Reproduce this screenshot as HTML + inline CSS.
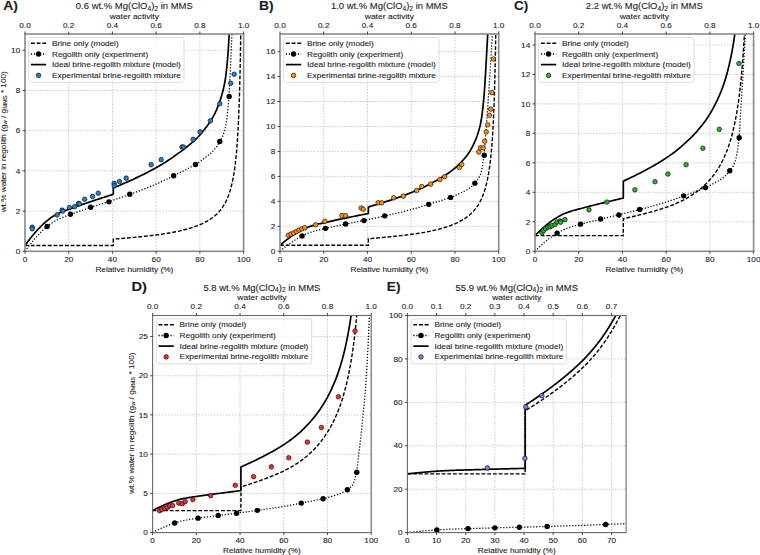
<!DOCTYPE html>
<html><head><meta charset="utf-8"><style>
html,body{margin:0;padding:0;background:#fff;}
body{width:760px;height:555px;overflow:hidden;}
svg{display:block;}
text{font-family:"Liberation Sans",sans-serif;fill:#1c1c1c;stroke:#1c1c1c;stroke-width:0.1px;}
</style></head><body>
<svg width="760" height="555" viewBox="0 0 760 555">
<clipPath id="cA"><rect x="25.0" y="34.0" width="218.6" height="217.3"/></clipPath>
<path d="M25 34V251.3M68.72 34V251.3M112.44 34V251.3M156.16 34V251.3M199.88 34V251.3M243.6 34V251.3M25 251.3H243.6M25 211.1H243.6M25 170.89H243.6M25 130.69H243.6M25 90.49H243.6M25 50.28H243.6" stroke="#c4c4c4" stroke-width="0.9" stroke-dasharray="1.6,1.45" fill="none"/>
<g clip-path="url(#cA)" fill="none" stroke="#000">
<path d="M25 245.46 L26.09 245.46 L27.19 245.46 L28.28 245.46 L29.37 245.46 L30.46 245.46 L31.56 245.46 L32.65 245.46 L33.74 245.46 L34.84 245.46 L35.93 245.46 L37.02 245.46 L38.12 245.46 L39.21 245.46 L40.3 245.46 L41.39 245.46 L42.49 245.46 L43.58 245.46 L44.67 245.46 L45.77 245.46 L46.86 245.46 L47.95 245.46 L49.05 245.46 L50.14 245.46 L51.23 245.46 L52.33 245.46 L53.42 245.46 L54.51 245.46 L55.6 245.46 L56.7 245.46 L57.79 245.46 L58.88 245.46 L59.98 245.46 L61.07 245.46 L62.16 245.46 L63.26 245.46 L64.35 245.46 L65.44 245.46 L66.53 245.46 L67.63 245.46 L68.72 245.46 L69.81 245.46 L70.91 245.46 L72 245.46 L73.09 245.46 L74.19 245.46 L75.28 245.46 L76.37 245.46 L77.46 245.46 L78.56 245.46 L79.65 245.46 L80.74 245.46 L81.84 245.46 L82.93 245.46 L84.02 245.46 L85.12 245.46 L86.21 245.46 L87.3 245.46 L88.39 245.46 L89.49 245.46 L90.58 245.46 L91.67 245.46 L92.77 245.46 L93.86 245.46 L94.95 245.46 L96.05 245.46 L97.14 245.46 L98.23 245.46 L99.32 245.46 L100.42 245.46 L101.51 245.46 L102.6 245.46 L103.7 245.46 L104.79 245.46 L105.88 245.46 L106.97 245.46 L108.07 245.46 L109.16 245.46 L110.25 245.46 L111.35 245.46 L112.44 245.46 L113.31 245.46 L113.31 245.46 L113.31 239.19 L114.41 239.1 L115.5 239.01 L116.59 238.92 L117.69 238.83 L118.78 238.74 L119.87 238.64 L120.97 238.55 L122.06 238.46 L123.15 238.36 L124.24 238.27 L125.34 238.17 L126.43 238.07 L127.52 237.97 L128.62 237.87 L129.71 237.77 L130.8 237.67 L131.9 237.57 L132.99 237.46 L134.08 237.36 L135.17 237.25 L136.27 237.15 L137.36 237.04 L138.45 236.93 L139.55 236.82 L140.64 236.71 L141.73 236.59 L142.83 236.48 L143.92 236.36 L145.01 236.25 L146.1 236.13 L147.2 236.01 L148.29 235.89 L149.38 235.76 L150.48 235.64 L151.57 235.51 L152.66 235.38 L153.76 235.25 L154.85 235.11 L155.94 234.97 L157.03 234.83 L158.13 234.69 L159.22 234.54 L160.31 234.39 L161.41 234.23 L162.5 234.08 L163.59 233.91 L164.69 233.75 L165.78 233.58 L166.87 233.4 L167.96 233.22 L169.06 233.03 L170.15 232.84 L171.24 232.65 L172.34 232.45 L173.43 232.24 L174.52 232.02 L175.62 231.8 L176.71 231.58 L177.8 231.34 L178.89 231.1 L179.99 230.85 L181.08 230.6 L182.17 230.34 L183.27 230.07 L184.36 229.79 L185.45 229.5 L186.55 229.2 L187.64 228.9 L188.73 228.58 L189.82 228.25 L190.92 227.92 L192.01 227.57 L193.1 227.21 L194.2 226.84 L195.29 226.45 L196.38 226.05 L197.48 225.64 L198.57 225.21 L199.66 224.76 L200.75 224.29 L201.85 223.81 L202.94 223.3 L204.03 222.77 L205.13 222.22 L206.22 221.64 L207.31 221.03 L208.41 220.39 L209.5 219.72 L210.59 219 L211.68 218.25 L212.78 217.45 L213.87 216.61 L214.96 215.7 L216.06 214.74 L216.6 214.23 L217.15 213.71 L217.7 213.16 L218.24 212.6 L218.79 212.01 L219.34 211.4 L219.88 210.76 L220.43 210.1 L220.97 209.41 L221.52 208.69 L222.07 207.94 L222.61 207.15 L223.16 206.32 L223.71 205.46 L224.25 204.55 L224.8 203.59 L225.35 202.58 L225.89 201.52 L226.44 200.39 L226.99 199.2 L227.53 197.93 L228.08 196.58 L228.35 195.87 L228.63 195.14 L228.9 194.38 L229.17 193.6 L229.45 192.79 L229.72 191.95 L229.99 191.07 L230.27 190.17 L230.54 189.23 L230.81 188.25 L231.09 187.23 L231.36 186.17 L231.63 185.06 L231.9 183.91 L232.18 182.7 L232.45 181.44 L232.72 180.12 L233 178.73 L233.27 177.28 L233.41 176.52 L233.54 175.75 L233.68 174.95 L233.82 174.13 L233.95 173.29 L234.09 172.43 L234.23 171.55 L234.36 170.63 L234.5 169.7 L234.64 168.73 L234.77 167.74 L234.91 166.72 L235.05 165.66 L235.18 164.57 L235.32 163.45 L235.46 162.29 L235.59 161.1 L235.73 159.86 L235.87 158.58 L236 157.26 L236.14 155.88 L236.28 154.46 L236.41 152.99 L236.48 152.23 L236.55 151.46 L236.62 150.68 L236.69 149.87 L236.76 149.06 L236.82 148.22 L236.89 147.37 L236.96 146.51 L237.03 145.62 L237.1 144.72 L237.16 143.8 L237.23 142.86 L237.3 141.9 L237.37 140.91 L237.44 139.91 L237.51 138.89 L237.57 137.84 L237.64 136.77 L237.71 135.67 L237.78 134.55 L237.85 133.4 L237.92 132.22 L237.98 131.02 L238.05 129.79 L238.12 128.53 L238.19 127.23 L238.26 125.9 L238.33 124.54 L238.39 123.14 L238.46 121.71 L238.53 120.24 L238.57 119.49 L238.6 118.73 L238.63 117.95 L238.67 117.17 L238.7 116.38 L238.74 115.58 L238.77 114.76 L238.8 113.93 L238.84 113.09 L238.87 112.24 L238.91 111.38 L238.94 110.5 L238.98 109.62 L239.01 108.71 L239.04 107.8 L239.08 106.87 L239.11 105.92 L239.15 104.97 L239.18 103.99 L239.21 103.01 L239.25 102 L239.28 100.98 L239.32 99.95 L239.35 98.9 L239.39 97.83 L239.42 96.74 L239.45 95.64 L239.49 94.51 L239.52 93.37 L239.56 92.21 L239.59 91.03 L239.62 89.83 L239.66 88.6 L239.69 87.36 L239.73 86.1 L239.76 84.81 L239.79 83.49 L239.83 82.16 L239.86 80.8 L239.9 79.41 L239.93 78 L239.97 76.56 L240 75.1 L240.03 73.61 L240.05 72.85 L240.07 72.08 L240.09 71.31 L240.1 70.53 L240.12 69.74 L240.14 68.95 L240.15 68.14 L240.17 67.33 L240.19 66.51 L240.2 65.68 L240.22 64.84 L240.24 64 L240.26 63.15 L240.27 62.28 L240.29 61.41 L240.31 60.53 L240.32 59.64 L240.34 58.74 L240.36 57.83 L240.38 56.91 L240.39 55.98 L240.41 55.04 L240.43 54.09 L240.44 53.13 L240.46 52.16 L240.48 51.18 L240.5 50.19 L240.51 49.19 L240.53 48.17 L240.55 47.15 L240.56 46.11 L240.58 45.06 L240.6 44 L240.61 42.93 L240.63 41.84 L240.65 40.74 L240.67 39.63 L240.68 38.5 L240.7 37.37 L240.72 36.21 L240.73 35.05 L240.75 33.87 L240.77 32.67 L240.79 31.46 L240.8 30.24 L240.82 29 L240.84 27.74 L240.85 26.47 L240.87 25.19 L240.89 23.88 L240.91 22.56 L240.92 21.23 L240.94 19.87 L240.96 18.5 L240.97 17.11 L240.99 15.7 L241.01 14.27 L241.02 12.82 L241.04 11.36 L241.06 9.87 L241.07 9.12 L241.08 8.36 L241.08 7.6 L241.09 6.83 L241.1 6.06 L241.11 5.28 L241.12 4.5 L241.13 3.71 L241.14 2.92 L241.14 2.12 L241.15 1.32" stroke-width="1.4" stroke-dasharray="3.9,1.8"/>
<path d="M25 251.3 L25.55 250.53 L26.09 249.77 L26.64 249.02 L27.19 248.28 L27.73 247.57 L28.28 246.87 L28.83 246.17 L29.37 245.47 L29.92 244.76 L30.46 244.05 L31.01 243.35 L31.56 242.66 L32.1 241.99 L32.65 241.34 L33.2 240.69 L33.74 240.04 L34.29 239.38 L34.84 238.72 L35.38 238.07 L35.93 237.43 L36.48 236.81 L37.02 236.2 L37.57 235.6 L38.12 235.02 L38.66 234.45 L39.21 233.9 L39.76 233.35 L40.3 232.81 L40.85 232.25 L41.39 231.69 L41.94 231.13 L42.49 230.6 L43.03 230.07 L43.58 229.56 L44.13 229.07 L44.67 228.59 L45.22 228.12 L45.77 227.66 L46.31 227.22 L46.86 226.78 L47.41 226.33 L47.95 225.88 L48.5 225.44 L49.05 225 L49.59 224.56 L50.14 224.14 L50.69 223.74 L51.23 223.36 L51.78 223 L52.33 222.65 L52.87 222.31 L53.42 221.98 L53.96 221.66 L54.51 221.35 L55.06 221.05 L55.6 220.75 L56.15 220.45 L56.7 220.16 L57.24 219.87 L57.79 219.59 L58.34 219.31 L58.88 219.05 L59.43 218.79 L59.98 218.53 L60.52 218.29 L61.4 217.91 L62.27 217.54 L63.15 217.19 L64.02 216.85 L64.89 216.52 L65.77 216.22 L66.64 215.93 L67.52 215.63 L68.39 215.33 L69.27 215.02 L70.14 214.69 L71.02 214.36 L71.89 214.03 L72.76 213.69 L73.64 213.36 L74.51 213.04 L75.39 212.72 L76.26 212.41 L77.14 212.09 L78.01 211.78 L78.88 211.48 L79.76 211.17 L80.63 210.87 L81.51 210.56 L82.38 210.26 L83.26 209.97 L84.13 209.67 L85.01 209.37 L85.88 209.08 L86.75 208.78 L87.63 208.49 L88.5 208.2 L89.38 207.91 L90.25 207.62 L91.13 207.33 L92 207.04 L92.88 206.76 L93.75 206.47 L94.62 206.18 L95.5 205.9 L96.37 205.61 L97.25 205.33 L98.12 205.04 L99 204.76 L99.87 204.47 L100.74 204.19 L101.62 203.9 L102.49 203.62 L103.37 203.33 L104.24 203.04 L105.12 202.76 L105.99 202.47 L106.87 202.19 L107.74 201.9 L108.61 201.61 L109.49 201.32 L110.36 201.04 L111.24 200.75 L112.11 200.46 L112.99 200.17 L113.86 199.88 L114.74 199.58 L115.61 199.29 L116.48 199 L117.36 198.7 L118.23 198.41 L119.11 198.11 L119.98 197.81 L120.86 197.52 L121.73 197.22 L122.6 196.91 L123.48 196.61 L124.35 196.31 L125.23 196 L126.1 195.7 L126.98 195.39 L127.85 195.08 L128.73 194.77 L129.6 194.46 L130.47 194.15 L131.35 193.83 L132.22 193.52 L133.1 193.2 L133.97 192.88 L134.85 192.56 L135.72 192.23 L136.6 191.91 L137.47 191.58 L138.34 191.25 L139.22 190.92 L140.09 190.59 L140.97 190.25 L141.84 189.91 L142.72 189.57 L143.59 189.23 L144.46 188.89 L145.34 188.54 L146.21 188.19 L147.09 187.84 L147.96 187.49 L148.84 187.13 L149.71 186.77 L150.59 186.41 L151.46 186.05 L152.33 185.68 L153.21 185.31 L154.08 184.94 L154.96 184.57 L155.83 184.19 L156.71 183.81 L157.58 183.43 L158.46 183.04 L159.33 182.65 L160.2 182.26 L161.08 181.86 L161.95 181.46 L162.83 181.06 L163.7 180.65 L164.58 180.24 L165.45 179.83 L166.32 179.41 L167.2 178.99 L168.07 178.57 L168.95 178.14 L169.82 177.71 L170.7 177.28 L171.57 176.84 L172.45 176.39 L173.32 175.94 L174.19 175.48 L175.07 175.01 L175.94 174.54 L176.82 174.08 L177.69 173.63 L178.57 173.2 L179.44 172.8 L180.32 172.41 L181.19 172.01 L182.06 171.6 L182.94 171.17 L183.81 170.72 L184.69 170.26 L185.56 169.79 L186.44 169.32 L187.31 168.84 L188.18 168.37 L189.06 167.9 L189.93 167.44 L190.81 166.99 L191.68 166.54 L192.56 166.08 L193.43 165.62 L194.31 165.15 L195.18 164.65 L196.05 164.14 L196.93 163.6 L197.8 163.04 L198.68 162.47 L199.55 161.87 L200.43 161.26 L201.3 160.61 L202.18 159.94 L203.05 159.25 L203.92 158.56 L204.8 157.88 L205.67 157.21 L206.55 156.57 L207.42 155.94 L208.3 155.29 L209.17 154.62 L210.04 153.89 L210.92 153.11 L211.79 152.28 L212.67 151.41 L213.54 150.48 L214.42 149.5 L215.29 148.46 L216.17 147.35 L216.6 146.75 L217.04 146.13 L217.48 145.47 L217.91 144.8 L218.35 144.1 L218.79 143.39 L219.23 142.66 L219.66 141.93 L220.1 141.19 L220.54 140.42 L220.97 139.62 L221.41 138.79 L221.85 137.9 L222.29 136.95 L222.72 135.93 L223.16 134.83 L223.6 133.62 L224.04 132.32 L224.47 130.95 L224.91 129.53 L225.13 128.72 L225.35 127.8 L225.57 126.75 L225.78 125.58 L226 124.31 L226.22 122.95 L226.44 121.52 L226.55 120.76 L226.66 119.98 L226.77 119.16 L226.88 118.32 L226.99 117.44 L227.1 116.54 L227.21 115.61 L227.31 114.65 L227.42 113.66 L227.53 112.64 L227.64 111.59 L227.75 110.5 L227.86 109.36 L227.97 108.16 L228.08 106.91 L228.19 105.61 L228.3 104.28 L228.41 102.9 L228.52 101.47 L228.63 100.02 L228.74 98.53 L228.79 97.76 L228.84 96.98 L228.9 96.19 L228.95 95.37 L229.01 94.54 L229.06 93.7 L229.12 92.84 L229.17 91.96 L229.23 91.07 L229.28 90.17 L229.34 89.25 L229.39 88.31 L229.45 87.37 L229.5 86.41 L229.55 85.44 L229.61 84.46 L229.66 83.45 L229.72 82.42 L229.77 81.36 L229.83 80.28 L229.88 79.17 L229.94 78.05 L229.99 76.91 L230.05 75.76 L230.1 74.6 L230.16 73.43 L230.21 72.25 L230.27 71.07 L230.32 69.89 L230.37 68.71 L230.43 67.53 L230.48 66.36 L230.54 65.19 L230.59 64.02 L230.65 62.83 L230.7 61.64 L230.76 60.45 L230.81 59.25 L230.87 58.04 L230.92 56.83 L230.98 55.62 L231.03 54.4 L231.09 53.19 L231.14 51.97 L231.19 50.75 L231.25 49.53 L231.3 48.31 L231.36 47.09 L231.41 45.88 L231.47 44.66 L231.52 43.45 L231.58 42.24 L231.63 41.04 L231.69 39.84 L231.74 38.64 L231.8 37.45 L231.85 36.26 L231.9 35.07 L231.96 33.88 L232.01 32.69 L232.07 31.49 L232.12 30.3 L232.18 29.11 L232.23 27.91 L232.29 26.71 L232.34 25.5 L232.4 24.29 L232.45 23.07 L232.51 21.84 L232.56 20.61 L232.62 19.37 L232.67 18.12 L232.72 16.86 L232.78 15.59 L232.83 14.31 L232.89 13.03 L232.94 11.73 L233 10.43 L233.05 9.13 L233.11 7.82 L233.16 6.5 L233.22 5.18 L233.27 3.86 L233.33 2.54 L233.38 1.22" stroke-width="1.3" stroke-dasharray="1.2,1.8"/>
<path d="M25 245.46 L25.55 244.69 L26.09 243.93 L26.64 243.18 L27.19 242.45 L27.73 241.73 L28.28 241.03 L28.83 240.33 L29.37 239.63 L29.92 238.92 L30.46 238.21 L31.01 237.51 L31.56 236.82 L32.1 236.15 L32.65 235.5 L33.2 234.85 L33.74 234.21 L34.29 233.55 L34.84 232.89 L35.38 232.23 L35.93 231.59 L36.48 230.97 L37.02 230.36 L37.57 229.76 L38.12 229.18 L38.66 228.61 L39.21 228.06 L39.76 227.52 L40.3 226.97 L40.85 226.41 L41.39 225.85 L41.94 225.3 L42.49 224.76 L43.03 224.24 L43.58 223.73 L44.13 223.23 L44.67 222.75 L45.22 222.28 L45.77 221.83 L46.31 221.38 L46.86 220.94 L47.41 220.49 L47.95 220.05 L48.5 219.6 L49.05 219.16 L49.59 218.73 L50.14 218.31 L50.69 217.9 L51.23 217.52 L51.78 217.16 L52.33 216.81 L52.87 216.47 L53.42 216.14 L53.96 215.83 L54.51 215.51 L55.06 215.21 L55.6 214.91 L56.15 214.61 L56.7 214.32 L57.24 214.03 L57.79 213.75 L58.34 213.48 L58.88 213.21 L59.43 212.95 L59.98 212.7 L60.52 212.45 L61.4 212.07 L62.27 211.7 L63.15 211.35 L64.02 211.01 L64.89 210.69 L65.77 210.38 L66.64 210.09 L67.52 209.8 L68.39 209.5 L69.27 209.18 L70.14 208.86 L71.02 208.52 L71.89 208.19 L72.76 207.85 L73.64 207.52 L74.51 207.2 L75.39 206.88 L76.26 206.57 L77.14 206.26 L78.01 205.95 L78.88 205.64 L79.76 205.33 L80.63 205.03 L81.51 204.73 L82.38 204.43 L83.26 204.13 L84.13 203.83 L85.01 203.54 L85.88 203.24 L86.75 202.95 L87.63 202.66 L88.5 202.36 L89.38 202.07 L90.25 201.78 L91.13 201.5 L92 201.21 L92.88 200.92 L93.75 200.63 L94.62 200.35 L95.5 200.06 L96.37 199.77 L97.25 199.49 L98.12 199.2 L99 198.92 L99.87 198.63 L100.74 198.35 L101.62 198.06 L102.49 197.78 L103.37 197.49 L104.24 197.21 L105.12 196.92 L105.99 196.64 L106.87 196.35 L107.74 196.06 L108.61 195.77 L109.49 195.49 L110.36 195.2 L111.24 194.91 L112.11 194.62 L112.99 194.33 L113.31 194.22 L113.31 194.22 L113.31 187.94 L114.41 187.49 L115.5 187.04 L116.59 186.58 L117.69 186.12 L118.78 185.66 L119.87 185.19 L120.97 184.73 L122.06 184.26 L123.15 183.79 L124.24 183.31 L125.34 182.83 L126.43 182.35 L127.52 181.87 L128.62 181.38 L129.71 180.89 L130.8 180.4 L131.9 179.9 L132.99 179.4 L134.08 178.9 L135.17 178.39 L136.27 177.87 L137.36 177.36 L138.45 176.84 L139.55 176.31 L140.64 175.78 L141.73 175.25 L142.83 174.71 L143.92 174.17 L145.01 173.62 L146.1 173.07 L147.2 172.51 L148.29 171.94 L149.38 171.37 L150.48 170.79 L151.57 170.21 L152.66 169.62 L153.76 169.03 L154.85 168.42 L155.94 167.81 L157.03 167.2 L158.13 166.57 L159.22 165.94 L160.31 165.3 L161.41 164.65 L162.5 163.99 L163.59 163.32 L164.69 162.64 L165.78 161.95 L166.87 161.25 L167.96 160.54 L169.06 159.82 L170.15 159.09 L171.24 158.35 L172.34 157.59 L173.43 156.82 L174.52 156.02 L175.62 155.22 L176.71 154.41 L177.8 153.62 L178.89 152.85 L179.99 152.11 L181.08 151.36 L182.17 150.58 L183.27 149.77 L184.36 148.92 L185.45 148.05 L186.55 147.16 L187.64 146.26 L188.73 145.36 L189.82 144.46 L190.92 143.55 L192.01 142.64 L193.1 141.71 L194.2 140.74 L195.29 139.74 L195.84 139.22 L196.38 138.69 L196.93 138.14 L197.48 137.59 L198.02 137.02 L198.57 136.45 L199.11 135.86 L199.66 135.26 L200.21 134.64 L200.75 134.01 L201.3 133.36 L201.85 132.7 L202.39 132.02 L202.94 131.34 L203.49 130.65 L204.03 129.95 L204.58 129.25 L205.13 128.54 L205.67 127.84 L206.22 127.15 L206.77 126.45 L207.31 125.75 L207.86 125.03 L208.41 124.3 L208.95 123.55 L209.5 122.77 L210.04 121.96 L210.59 121.11 L211.14 120.24 L211.68 119.34 L212.23 118.41 L212.78 117.45 L213.32 116.45 L213.87 115.42 L214.42 114.36 L214.96 113.26 L215.51 112.12 L216.06 110.93 L216.6 109.68 L217.15 108.37 L217.7 107 L217.97 106.29 L218.24 105.57 L218.52 104.84 L218.79 104.1 L219.06 103.34 L219.34 102.58 L219.61 101.8 L219.88 101.02 L220.16 100.23 L220.43 99.42 L220.7 98.59 L220.97 97.73 L221.25 96.86 L221.52 95.96 L221.79 95.03 L222.07 94.07 L222.34 93.08 L222.61 92.04 L222.89 90.97 L223.16 89.85 L223.43 88.68 L223.71 87.46 L223.98 86.19 L224.25 84.89 L224.53 83.55 L224.8 82.19 L225.07 80.73 L225.21 79.93 L225.35 79.08 L225.48 78.18 L225.62 77.22 L225.76 76.22 L225.89 75.17 L226.03 74.09 L226.17 72.96 L226.3 71.8 L226.44 70.61 L226.58 69.37 L226.71 68.07 L226.85 66.73 L226.99 65.34 L227.12 63.9 L227.26 62.41 L227.33 61.64 L227.4 60.86 L227.46 60.07 L227.53 59.27 L227.6 58.45 L227.67 57.63 L227.74 56.77 L227.81 55.9 L227.87 55 L227.94 54.09 L228.01 53.15 L228.08 52.19 L228.15 51.21 L228.22 50.21 L228.28 49.2 L228.35 48.16 L228.42 47.11 L228.49 46.04 L228.56 44.96 L228.63 43.86 L228.69 42.74 L228.76 41.61 L228.83 40.45 L228.9 39.27 L228.97 38.06 L229.04 36.82 L229.1 35.55 L229.17 34.26 L229.24 32.95 L229.31 31.61 L229.38 30.24 L229.45 28.86 L229.51 27.45 L229.58 26.02 L229.65 24.56 L229.68 23.82 L229.72 23.06 L229.75 22.3 L229.79 21.52 L229.82 20.74 L229.86 19.94 L229.89 19.14 L229.92 18.33 L229.96 17.51 L229.99 16.69 L230.03 15.86 L230.06 15.02 L230.09 14.18 L230.13 13.34 L230.16 12.49 L230.2 11.64 L230.23 10.79 L230.27 9.94 L230.3 9.09 L230.33 8.23 L230.37 7.38 L230.4 6.52 L230.44 5.67 L230.47 4.82 L230.5 3.97 L230.54 3.12 L230.57 2.27 L230.61 1.41 L230.64 0.55" stroke-width="1.7" stroke-linejoin="round"/>
</g>
<g fill="#000" clip-path="url(#cA)"><circle cx="47.08" cy="226.57" r="2.7"/><circle cx="70.47" cy="214.31" r="2.7"/><circle cx="90.58" cy="207.28" r="2.7"/><circle cx="108.94" cy="201.85" r="2.7"/><circle cx="129.71" cy="194.21" r="2.7"/><circle cx="173.65" cy="175.72" r="2.7"/><circle cx="195.51" cy="164.46" r="2.7"/><circle cx="219.77" cy="141.54" r="2.7"/><circle cx="229.17" cy="96.52" r="2.7"/></g>
<g fill="#2083cf" stroke="#000" stroke-width="0.6" clip-path="url(#cA)"><circle cx="32.21" cy="227.18" r="2.3"/><circle cx="32.21" cy="228.79" r="2.3"/><circle cx="57.13" cy="214.92" r="2.3"/><circle cx="62.16" cy="210.09" r="2.3"/><circle cx="62.82" cy="211.1" r="2.3"/><circle cx="69.38" cy="207.48" r="2.3"/><circle cx="74.62" cy="206.67" r="2.3"/><circle cx="78.56" cy="203.46" r="2.3"/><circle cx="79.43" cy="203.86" r="2.3"/><circle cx="84.68" cy="199.24" r="2.3"/><circle cx="92.55" cy="196.42" r="2.3"/><circle cx="98.23" cy="193.21" r="2.3"/><circle cx="114.19" cy="183.36" r="2.3"/><circle cx="114.19" cy="185.77" r="2.3"/><circle cx="119.44" cy="181.55" r="2.3"/><circle cx="126.21" cy="178.13" r="2.3"/><circle cx="151.13" cy="164.66" r="2.3"/><circle cx="161.19" cy="159.64" r="2.3"/><circle cx="181.95" cy="146.97" r="2.3"/><circle cx="183.49" cy="146.97" r="2.3"/><circle cx="193.1" cy="139.33" r="2.3"/><circle cx="200.1" cy="131.9" r="2.3"/><circle cx="210.37" cy="120.84" r="2.3"/><circle cx="219.77" cy="103.75" r="2.3"/><circle cx="230.7" cy="83.25" r="2.3"/><circle cx="234.2" cy="74.2" r="2.3"/></g>
<rect x="28.6" y="37.5" width="155.4" height="44.8" rx="2" fill="#fff" fill-opacity="0.8" stroke="#d4d4d4" stroke-width="0.8"/>
<path d="M30.9 43.3H46.2" stroke="#000" stroke-width="1.4" stroke-dasharray="3.9,1.8"/>
<path d="M30.9 54H46.2" stroke="#000" stroke-width="1.3" stroke-dasharray="1.2,1.8"/>
<circle cx="38.55" cy="54" r="2.7"/>
<path d="M30.9 64.6H46.2" stroke="#000" stroke-width="1.7"/>
<circle cx="38.55" cy="75.4" r="2.3" fill="#2083cf" stroke="#000" stroke-width="0.6"/>
<text transform="translate(52,45.85) scale(1.078,1)" font-size="7.63">Brine only (model)</text>
<text transform="translate(52,56.55) scale(1.080,1)" font-size="7.63">Regolith only (experiment)</text>
<text transform="translate(52,67.15) scale(1.090,1)" font-size="7.63">Ideal brine-regolith mixture (model)</text>
<text transform="translate(52,77.95) scale(1.092,1)" font-size="7.63">Experimental brine-regolith mixture</text>
<rect x="25" y="34" width="218.6" height="217.3" fill="none" stroke="#8a8a8a" stroke-width="1.6"/>
<path d="M25 251.3v2.5M68.72 251.3v2.5M112.44 251.3v2.5M156.16 251.3v2.5M199.88 251.3v2.5M243.6 251.3v2.5M25 34v-2.5M68.72 34v-2.5M112.44 34v-2.5M156.16 34v-2.5M199.88 34v-2.5M243.6 34v-2.5M25 251.3h-2.5M25 211.1h-2.5M25 170.89h-2.5M25 130.69h-2.5M25 90.49h-2.5M25 50.28h-2.5" stroke="#333" stroke-width="0.9"/>
<text transform="translate(25,261.7) scale(1.079,1)" font-size="7.63" text-anchor="middle">0</text>
<text transform="translate(68.72,261.7) scale(1.079,1)" font-size="7.63" text-anchor="middle">20</text>
<text transform="translate(112.44,261.7) scale(1.079,1)" font-size="7.63" text-anchor="middle">40</text>
<text transform="translate(156.16,261.7) scale(1.079,1)" font-size="7.63" text-anchor="middle">60</text>
<text transform="translate(199.88,261.7) scale(1.079,1)" font-size="7.63" text-anchor="middle">80</text>
<text transform="translate(243.6,261.7) scale(1.079,1)" font-size="7.63" text-anchor="middle">100</text>
<text transform="translate(25,27.6) scale(1.079,1)" font-size="7.63" text-anchor="middle">0.0</text>
<text transform="translate(68.72,27.6) scale(1.079,1)" font-size="7.63" text-anchor="middle">0.2</text>
<text transform="translate(112.44,27.6) scale(1.079,1)" font-size="7.63" text-anchor="middle">0.4</text>
<text transform="translate(156.16,27.6) scale(1.079,1)" font-size="7.63" text-anchor="middle">0.6</text>
<text transform="translate(199.88,27.6) scale(1.079,1)" font-size="7.63" text-anchor="middle">0.8</text>
<text transform="translate(243.6,27.6) scale(1.079,1)" font-size="7.63" text-anchor="middle">1.0</text>
<text transform="translate(20.2,254) scale(1.079,1)" font-size="7.63" text-anchor="end">0</text>
<text transform="translate(20.2,213.8) scale(1.079,1)" font-size="7.63" text-anchor="end">2</text>
<text transform="translate(20.2,173.59) scale(1.079,1)" font-size="7.63" text-anchor="end">4</text>
<text transform="translate(20.2,133.39) scale(1.079,1)" font-size="7.63" text-anchor="end">6</text>
<text transform="translate(20.2,93.19) scale(1.079,1)" font-size="7.63" text-anchor="end">8</text>
<text transform="translate(20.2,52.98) scale(1.079,1)" font-size="7.63" text-anchor="end">10</text>
<text transform="translate(134.3,271.7) scale(1.080,1)" font-size="7.63" text-anchor="middle">Relative humidity (%)</text>
<text transform="translate(134.3,18.8) scale(1.119,1)" font-size="7.63" text-anchor="middle">water activity</text>
<text transform="translate(134.3,9.4) scale(1.036,1)" font-size="9.16" text-anchor="middle"><tspan>0.6 wt.% Mg(ClO</tspan><tspan font-size="6.41" dy="1.47">4</tspan><tspan dy="-1.47">)</tspan><tspan font-size="6.41" dy="1.47">2</tspan><tspan dy="-1.47"> in MMS</tspan></text>
<text transform="translate(3.2,9.7) scale(1.101,1)" font-size="12.72" font-weight="bold" stroke="#111" stroke-width="0.3">A)</text>
<text transform="translate(6.2,141.75) rotate(-90) scale(1.080,1)" font-size="7.63" text-anchor="middle"><tspan>wt.% water in regolith (g</tspan><tspan font-size="5.34" dy="1.22">w</tspan><tspan dy="-1.22"> / g</tspan><tspan font-size="5.34" dy="1.22">MMS</tspan><tspan dy="-1.22"> * 100)</tspan></text>
<clipPath id="cB"><rect x="280.0" y="34.0" width="218.7" height="217.3"/></clipPath>
<path d="M280 34V251.3M323.74 34V251.3M367.48 34V251.3M411.22 34V251.3M454.96 34V251.3M498.7 34V251.3M280 251.3H498.7M280 226.34H498.7M280 201.37H498.7M280 176.41H498.7M280 151.45H498.7M280 126.49H498.7M280 101.52H498.7M280 76.56H498.7M280 51.6H498.7" stroke="#c4c4c4" stroke-width="0.9" stroke-dasharray="1.6,1.45" fill="none"/>
<g clip-path="url(#cB)" fill="none" stroke="#000">
<path d="M280 245.26 L281.09 245.26 L282.19 245.26 L283.28 245.26 L284.37 245.26 L285.47 245.26 L286.56 245.26 L287.65 245.26 L288.75 245.26 L289.84 245.26 L290.94 245.26 L292.03 245.26 L293.12 245.26 L294.22 245.26 L295.31 245.26 L296.4 245.26 L297.5 245.26 L298.59 245.26 L299.68 245.26 L300.78 245.26 L301.87 245.26 L302.96 245.26 L304.06 245.26 L305.15 245.26 L306.24 245.26 L307.34 245.26 L308.43 245.26 L309.52 245.26 L310.62 245.26 L311.71 245.26 L312.81 245.26 L313.9 245.26 L314.99 245.26 L316.09 245.26 L317.18 245.26 L318.27 245.26 L319.37 245.26 L320.46 245.26 L321.55 245.26 L322.65 245.26 L323.74 245.26 L324.83 245.26 L325.93 245.26 L327.02 245.26 L328.11 245.26 L329.21 245.26 L330.3 245.26 L331.39 245.26 L332.49 245.26 L333.58 245.26 L334.68 245.26 L335.77 245.26 L336.86 245.26 L337.96 245.26 L339.05 245.26 L340.14 245.26 L341.24 245.26 L342.33 245.26 L343.42 245.26 L344.52 245.26 L345.61 245.26 L346.7 245.26 L347.8 245.26 L348.89 245.26 L349.98 245.26 L351.08 245.26 L352.17 245.26 L353.26 245.26 L354.36 245.26 L355.45 245.26 L356.55 245.26 L357.64 245.26 L358.73 245.26 L359.83 245.26 L360.92 245.26 L362.01 245.26 L363.11 245.26 L364.2 245.26 L365.29 245.26 L366.39 245.26 L367.48 245.26 L368.35 245.26 L368.35 245.26 L368.35 238.76 L369.45 238.67 L370.54 238.58 L371.64 238.49 L372.73 238.39 L373.82 238.3 L374.92 238.2 L376.01 238.11 L377.1 238.01 L378.2 237.91 L379.29 237.81 L380.38 237.71 L381.48 237.61 L382.57 237.51 L383.66 237.4 L384.76 237.3 L385.85 237.19 L386.94 237.09 L388.04 236.98 L389.13 236.87 L390.22 236.76 L391.32 236.65 L392.41 236.54 L393.51 236.43 L394.6 236.31 L395.69 236.2 L396.79 236.08 L397.88 235.96 L398.97 235.84 L400.07 235.72 L401.16 235.6 L402.25 235.48 L403.35 235.35 L404.44 235.22 L405.53 235.09 L406.63 234.96 L407.72 234.82 L408.81 234.69 L409.91 234.55 L411 234.4 L412.09 234.26 L413.19 234.11 L414.28 233.96 L415.38 233.8 L416.47 233.64 L417.56 233.48 L418.66 233.31 L419.75 233.14 L420.84 232.96 L421.94 232.78 L423.03 232.59 L424.12 232.4 L425.22 232.2 L426.31 232 L427.4 231.79 L428.5 231.57 L429.59 231.35 L430.68 231.12 L431.78 230.89 L432.87 230.65 L433.96 230.4 L435.06 230.14 L436.15 229.88 L437.25 229.61 L438.34 229.33 L439.43 229.04 L440.53 228.74 L441.62 228.43 L442.71 228.12 L443.81 227.79 L444.9 227.45 L445.99 227.1 L447.09 226.74 L448.18 226.37 L449.27 225.98 L450.37 225.59 L451.46 225.17 L452.55 224.74 L453.65 224.3 L454.74 223.83 L455.83 223.35 L456.93 222.85 L458.02 222.32 L459.12 221.78 L460.21 221.2 L461.3 220.6 L462.4 219.97 L463.49 219.31 L464.58 218.61 L465.68 217.88 L466.77 217.1 L467.86 216.27 L468.96 215.4 L470.05 214.46 L471.14 213.47 L471.69 212.94 L472.24 212.4 L472.78 211.83 L473.33 211.25 L473.88 210.64 L474.42 210.01 L474.97 209.35 L475.52 208.66 L476.06 207.95 L476.61 207.21 L477.16 206.43 L477.7 205.61 L478.25 204.76 L478.8 203.86 L479.35 202.92 L479.89 201.93 L480.44 200.89 L480.99 199.78 L481.53 198.62 L482.08 197.38 L482.63 196.07 L482.9 195.38 L483.17 194.67 L483.45 193.94 L483.72 193.18 L483.99 192.4 L484.27 191.59 L484.54 190.75 L484.81 189.88 L485.09 188.98 L485.36 188.04 L485.63 187.06 L485.91 186.05 L486.18 185 L486.45 183.9 L486.73 182.76 L487 181.56 L487.27 180.31 L487.55 179.01 L487.82 177.64 L488.09 176.2 L488.23 175.46 L488.37 174.7 L488.5 173.91 L488.64 173.11 L488.78 172.29 L488.91 171.44 L489.05 170.58 L489.19 169.68 L489.32 168.77 L489.46 167.82 L489.6 166.85 L489.73 165.86 L489.87 164.83 L490.01 163.77 L490.14 162.68 L490.28 161.55 L490.42 160.39 L490.55 159.19 L490.69 157.95 L490.83 156.67 L490.96 155.35 L491.1 153.98 L491.24 152.56 L491.37 151.09 L491.44 150.33 L491.51 149.56 L491.58 148.78 L491.65 147.98 L491.72 147.17 L491.78 146.34 L491.85 145.49 L491.92 144.63 L491.99 143.75 L492.06 142.85 L492.13 141.94 L492.19 141.01 L492.26 140.05 L492.33 139.08 L492.4 138.08 L492.47 137.07 L492.54 136.03 L492.6 134.97 L492.67 133.88 L492.74 132.77 L492.81 131.64 L492.88 130.48 L492.95 129.29 L493.01 128.08 L493.08 126.83 L493.15 125.55 L493.22 124.25 L493.29 122.91 L493.36 121.53 L493.42 120.12 L493.49 118.68 L493.56 117.2 L493.59 116.44 L493.63 115.67 L493.66 114.89 L493.7 114.11 L493.73 113.31 L493.77 112.5 L493.8 111.68 L493.83 110.85 L493.87 110 L493.9 109.15 L493.94 108.28 L493.97 107.4 L494 106.5 L494.04 105.6 L494.07 104.68 L494.11 103.74 L494.14 102.8 L494.18 101.84 L494.21 100.86 L494.24 99.87 L494.28 98.86 L494.31 97.84 L494.35 96.8 L494.38 95.75 L494.41 94.67 L494.45 93.59 L494.48 92.48 L494.52 91.35 L494.55 90.21 L494.59 89.05 L494.62 87.87 L494.65 86.67 L494.69 85.44 L494.72 84.2 L494.76 82.94 L494.79 81.65 L494.82 80.34 L494.86 79.01 L494.89 77.65 L494.93 76.27 L494.96 74.86 L495 73.42 L495.03 71.96 L495.06 70.48 L495.08 69.72 L495.1 68.96 L495.12 68.19 L495.13 67.41 L495.15 66.63 L495.17 65.84 L495.18 65.04 L495.2 64.23 L495.22 63.41 L495.23 62.59 L495.25 61.76 L495.27 60.92 L495.29 60.07 L495.3 59.21 L495.32 58.35 L495.34 57.47 L495.35 56.59 L495.37 55.7 L495.39 54.79 L495.41 53.88 L495.42 52.96 L495.44 52.03 L495.46 51.09 L495.47 50.14 L495.49 49.18 L495.51 48.2 L495.53 47.22 L495.54 46.23 L495.56 45.22 L495.58 44.21 L495.59 43.18 L495.61 42.14 L495.63 41.1 L495.65 40.03 L495.66 38.96 L495.68 37.87 L495.7 36.78 L495.71 35.66 L495.73 34.54 L495.75 33.4 L495.76 32.25 L495.78 31.09 L495.8 29.91 L495.82 28.72 L495.83 27.51 L495.85 26.29 L495.87 25.05 L495.88 23.8 L495.9 22.54 L495.92 21.25 L495.94 19.95 L495.95 18.64 L495.97 17.31 L495.99 15.96 L496 14.59 L496.02 13.21 L496.04 11.81 L496.06 10.39 L496.07 8.95 L496.09 7.49 L496.11 6.01 L496.12 4.51 L496.13 3.76 L496.14 3 L496.15 2.23 L496.16 1.46 L496.17 0.68" stroke-width="1.4" stroke-dasharray="3.9,1.8"/>
<path d="M280 251.3 L281.09 250.35 L282.19 249.43 L283.28 248.55 L284.37 247.68 L285.47 246.8 L286.56 245.93 L287.65 245.11 L288.75 244.31 L289.84 243.49 L290.94 242.69 L292.03 241.92 L293.12 241.19 L294.22 240.5 L295.31 239.82 L296.4 239.12 L297.5 238.44 L298.59 237.8 L299.68 237.2 L300.78 236.62 L301.87 236.07 L302.96 235.52 L304.06 234.97 L305.15 234.44 L306.24 233.95 L307.34 233.51 L308.43 233.1 L309.52 232.7 L310.62 232.33 L311.71 231.96 L312.81 231.61 L313.9 231.27 L314.99 230.96 L316.09 230.65 L317.18 230.37 L318.27 230.09 L319.37 229.83 L320.46 229.59 L321.55 229.36 L322.65 229.13 L323.74 228.9 L324.83 228.65 L325.93 228.39 L327.02 228.13 L328.11 227.87 L329.21 227.62 L330.3 227.37 L331.39 227.13 L332.49 226.88 L333.58 226.65 L334.68 226.41 L335.77 226.17 L336.86 225.94 L337.96 225.71 L339.05 225.47 L340.14 225.24 L341.24 225.02 L342.33 224.79 L343.42 224.56 L344.52 224.34 L345.61 224.11 L346.7 223.89 L347.8 223.67 L348.89 223.44 L349.98 223.22 L351.08 223 L352.17 222.78 L353.26 222.56 L354.36 222.33 L355.45 222.11 L356.55 221.89 L357.64 221.67 L358.73 221.45 L359.83 221.23 L360.92 221.01 L362.01 220.78 L363.11 220.56 L364.2 220.34 L365.29 220.11 L366.39 219.89 L367.48 219.66 L368.57 219.44 L369.67 219.21 L370.76 218.98 L371.85 218.76 L372.95 218.53 L374.04 218.3 L375.13 218.07 L376.23 217.84 L377.32 217.6 L378.42 217.37 L379.51 217.13 L380.6 216.9 L381.7 216.66 L382.79 216.42 L383.88 216.18 L384.98 215.93 L386.07 215.69 L387.16 215.45 L388.26 215.2 L389.35 214.95 L390.44 214.7 L391.54 214.45 L392.63 214.19 L393.72 213.94 L394.82 213.68 L395.91 213.42 L397 213.16 L398.1 212.89 L399.19 212.63 L400.28 212.36 L401.38 212.09 L402.47 211.82 L403.57 211.54 L404.66 211.26 L405.75 210.98 L406.85 210.7 L407.94 210.42 L409.03 210.13 L410.13 209.84 L411.22 209.54 L412.31 209.25 L413.41 208.95 L414.5 208.64 L415.59 208.34 L416.69 208.03 L417.78 207.72 L418.87 207.4 L419.97 207.09 L421.06 206.76 L422.15 206.44 L423.25 206.11 L424.34 205.78 L425.44 205.44 L426.53 205.1 L427.62 204.76 L428.72 204.4 L429.81 204.04 L430.9 203.67 L432 203.32 L433.09 202.97 L434.18 202.65 L435.28 202.34 L436.37 202.04 L437.46 201.72 L438.56 201.37 L439.65 201.02 L440.74 200.66 L441.84 200.29 L442.93 199.92 L444.02 199.55 L445.12 199.2 L446.21 198.85 L447.31 198.5 L448.4 198.14 L449.49 197.77 L450.59 197.38 L451.68 196.97 L452.77 196.54 L453.87 196.1 L454.96 195.63 L456.05 195.14 L457.15 194.62 L458.24 194.09 L459.33 193.56 L460.43 193.03 L461.52 192.53 L462.61 192.04 L463.71 191.53 L464.8 190.99 L465.89 190.4 L466.99 189.75 L468.08 189.06 L469.18 188.32 L470.27 187.53 L471.36 186.67 L472.46 185.69 L473 185.17 L473.55 184.63 L474.1 184.07 L474.64 183.51 L475.19 182.93 L475.74 182.33 L476.28 181.7 L476.83 181.03 L477.38 180.3 L477.92 179.5 L478.47 178.61 L479.02 177.63 L479.56 176.57 L480.11 175.45 L480.38 174.77 L480.66 173.96 L480.93 173.05 L481.2 172.04 L481.48 170.95 L481.75 169.76 L482.02 168.46 L482.3 167.05 L482.43 166.3 L482.57 165.52 L482.71 164.72 L482.84 163.88 L482.98 162.98 L483.12 162.04 L483.25 161.05 L483.39 160.01 L483.53 158.94 L483.66 157.82 L483.8 156.68 L483.94 155.48 L484.07 154.23 L484.21 152.91 L484.35 151.53 L484.48 150.1 L484.62 148.62 L484.69 147.86 L484.76 147.08 L484.83 146.28 L484.89 145.45 L484.96 144.6 L485.03 143.73 L485.1 142.84 L485.17 141.95 L485.24 141.04 L485.3 140.13 L485.37 139.21 L485.44 138.29 L485.51 137.38 L485.58 136.47 L485.65 135.56 L485.71 134.65 L485.78 133.73 L485.85 132.8 L485.92 131.87 L485.99 130.93 L486.06 129.99 L486.12 129.05 L486.19 128.1 L486.26 127.15 L486.33 126.21 L486.4 125.26 L486.47 124.32 L486.53 123.37 L486.6 122.43 L486.67 121.49 L486.74 120.56 L486.81 119.63 L486.88 118.7 L486.94 117.78 L487.01 116.85 L487.08 115.93 L487.15 115.01 L487.22 114.08 L487.29 113.15 L487.35 112.22 L487.42 111.29 L487.49 110.35 L487.56 109.4 L487.63 108.45 L487.7 107.49 L487.76 106.52 L487.83 105.54 L487.9 104.55 L487.97 103.55 L488.04 102.55 L488.11 101.54 L488.18 100.53 L488.24 99.51 L488.31 98.48 L488.38 97.46 L488.45 96.43 L488.52 95.4 L488.59 94.38 L488.65 93.35 L488.72 92.33 L488.79 91.31 L488.86 90.29 L488.93 89.28 L489 88.27 L489.06 87.27 L489.13 86.26 L489.2 85.26 L489.27 84.26 L489.34 83.26 L489.41 82.25 L489.47 81.25 L489.54 80.24 L489.61 79.22 L489.68 78.21 L489.75 77.18 L489.82 76.15 L489.88 75.11 L489.95 74.07 L490.02 73.01 L490.09 71.95 L490.16 70.89 L490.23 69.82 L490.29 68.74 L490.36 67.66 L490.43 66.57 L490.5 65.48 L490.57 64.39 L490.64 63.29 L490.7 62.18 L490.77 61.07 L490.84 59.96 L490.91 58.84 L490.98 57.72 L491.05 56.59 L491.11 55.46 L491.18 54.33 L491.25 53.19 L491.32 52.06 L491.39 50.91 L491.46 49.77 L491.52 48.62 L491.59 47.46 L491.66 46.29 L491.73 45.12 L491.8 43.94 L491.87 42.74 L491.93 41.54 L492 40.33 L492.07 39.11 L492.14 37.87 L492.21 36.62 L492.28 35.37 L492.34 34.12 L492.41 32.86 L492.48 31.58 L492.55 30.3 L492.62 29.01 L492.69 27.71 L492.75 26.39 L492.82 25.05 L492.89 23.7 L492.96 22.33 L493.03 20.94 L493.1 19.54 L493.16 18.1 L493.23 16.65 L493.3 15.17 L493.37 13.68 L493.4 12.92 L493.44 12.16 L493.47 11.39 L493.51 10.62 L493.54 9.84 L493.57 9.05 L493.61 8.27 L493.64 7.47 L493.68 6.67 L493.71 5.87 L493.75 5.06 L493.78 4.24 L493.81 3.42 L493.85 2.59 L493.88 1.76 L493.92 0.92" stroke-width="1.3" stroke-dasharray="1.2,1.8"/>
<path d="M280 245.26 L281.09 244.31 L282.19 243.39 L283.28 242.51 L284.37 241.64 L285.47 240.76 L286.56 239.89 L287.65 239.07 L288.75 238.27 L289.84 237.45 L290.94 236.65 L292.03 235.88 L293.12 235.15 L294.22 234.46 L295.31 233.78 L296.4 233.08 L297.5 232.4 L298.59 231.76 L299.68 231.16 L300.78 230.58 L301.87 230.03 L302.96 229.48 L304.06 228.93 L305.15 228.4 L306.24 227.91 L307.34 227.47 L308.43 227.05 L309.52 226.66 L310.62 226.29 L311.71 225.92 L312.81 225.57 L313.9 225.23 L314.99 224.91 L316.09 224.61 L317.18 224.33 L318.27 224.05 L319.37 223.79 L320.46 223.55 L321.55 223.32 L322.65 223.09 L323.74 222.86 L324.83 222.61 L325.93 222.35 L327.02 222.09 L328.11 221.83 L329.21 221.58 L330.3 221.33 L331.39 221.09 L332.49 220.84 L333.58 220.6 L334.68 220.37 L335.77 220.13 L336.86 219.9 L337.96 219.66 L339.05 219.43 L340.14 219.2 L341.24 218.97 L342.33 218.75 L343.42 218.52 L344.52 218.3 L345.61 218.07 L346.7 217.85 L347.8 217.62 L348.89 217.4 L349.98 217.18 L351.08 216.96 L352.17 216.74 L353.26 216.51 L354.36 216.29 L355.45 216.07 L356.55 215.85 L357.64 215.63 L358.73 215.41 L359.83 215.19 L360.92 214.96 L362.01 214.74 L363.11 214.52 L364.2 214.3 L365.29 214.07 L366.39 213.85 L367.48 213.62 L368.35 213.44 L368.35 213.44 L368.35 206.95 L369.45 206.63 L370.54 206.31 L371.64 205.99 L372.73 205.67 L373.82 205.34 L374.92 205.02 L376.01 204.69 L377.1 204.36 L378.2 204.02 L379.29 203.69 L380.38 203.35 L381.48 203.01 L382.57 202.67 L383.66 202.33 L384.76 201.98 L385.85 201.63 L386.94 201.28 L388.04 200.93 L389.13 200.57 L390.22 200.21 L391.32 199.85 L392.41 199.49 L393.51 199.12 L394.6 198.75 L395.69 198.37 L396.79 197.99 L397.88 197.61 L398.97 197.23 L400.07 196.84 L401.16 196.44 L402.25 196.05 L403.35 195.65 L404.44 195.24 L405.53 194.83 L406.63 194.42 L407.72 194 L408.81 193.57 L409.91 193.14 L411 192.7 L412.09 192.26 L413.19 191.81 L414.28 191.36 L415.38 190.9 L416.47 190.43 L417.56 189.96 L418.66 189.47 L419.75 188.98 L420.84 188.49 L421.94 187.98 L423.03 187.46 L424.12 186.94 L425.22 186.41 L426.31 185.87 L427.4 185.31 L428.5 184.75 L429.59 184.16 L430.68 183.57 L431.78 182.98 L432.87 182.39 L433.96 181.81 L435.06 181.25 L436.15 180.68 L437.25 180.09 L438.34 179.47 L439.43 178.83 L440.53 178.17 L441.62 177.49 L442.71 176.81 L443.81 176.12 L444.9 175.42 L445.99 174.72 L447.09 174.01 L448.18 173.28 L449.27 172.53 L450.37 171.75 L451.46 170.93 L452.55 170.07 L453.65 169.19 L454.74 168.26 L455.83 167.29 L456.93 166.28 L457.48 165.76 L458.02 165.22 L458.57 164.69 L459.12 164.14 L459.66 163.59 L460.21 163.04 L460.76 162.49 L461.3 161.94 L461.85 161.38 L462.4 160.81 L462.94 160.24 L463.49 159.65 L464.04 159.04 L464.58 158.42 L465.13 157.77 L465.68 157.1 L466.22 156.4 L466.77 155.68 L467.32 154.94 L467.86 154.18 L468.41 153.39 L468.96 152.57 L469.5 151.73 L470.05 150.85 L470.6 149.95 L471.14 149.01 L471.69 148.03 L472.24 146.99 L472.78 145.91 L473.33 144.79 L473.88 143.64 L474.42 142.44 L474.97 141.21 L475.52 139.94 L476.06 138.61 L476.34 137.92 L476.61 137.21 L476.88 136.48 L477.16 135.73 L477.43 134.95 L477.7 134.14 L477.98 133.31 L478.25 132.44 L478.52 131.53 L478.8 130.6 L479.07 129.62 L479.35 128.62 L479.62 127.6 L479.89 126.55 L480.17 125.44 L480.44 124.2 L480.71 122.83 L480.85 122.1 L480.99 121.34 L481.12 120.55 L481.26 119.73 L481.4 118.9 L481.53 118.04 L481.67 117.14 L481.81 116.22 L481.94 115.26 L482.08 114.27 L482.22 113.25 L482.35 112.19 L482.49 111.1 L482.63 109.98 L482.76 108.82 L482.9 107.61 L483.04 106.34 L483.17 105.02 L483.31 103.65 L483.45 102.23 L483.58 100.76 L483.65 100.01 L483.72 99.25 L483.79 98.48 L483.86 97.7 L483.92 96.9 L483.99 96.09 L484.06 95.26 L484.13 94.41 L484.2 93.54 L484.27 92.65 L484.33 91.75 L484.4 90.84 L484.47 89.91 L484.54 88.96 L484.61 88 L484.68 87.03 L484.74 86.04 L484.81 85.02 L484.88 83.97 L484.95 82.9 L485.02 81.81 L485.09 80.7 L485.15 79.57 L485.22 78.43 L485.29 77.29 L485.36 76.13 L485.43 74.98 L485.5 73.82 L485.56 72.66 L485.63 71.51 L485.7 70.35 L485.77 69.17 L485.84 67.99 L485.91 66.8 L485.97 65.61 L486.04 64.41 L486.11 63.2 L486.18 61.99 L486.25 60.77 L486.32 59.55 L486.38 58.33 L486.45 57.11 L486.52 55.88 L486.59 54.65 L486.66 53.43 L486.73 52.2 L486.79 50.98 L486.86 49.75 L486.93 48.53 L487 47.3 L487.07 46.07 L487.14 44.83 L487.2 43.6 L487.27 42.35 L487.34 41.1 L487.41 39.84 L487.48 38.57 L487.55 37.3 L487.61 36.01 L487.68 34.71 L487.75 33.4 L487.82 32.07 L487.89 30.73 L487.96 29.38 L488.02 28.02 L488.09 26.65 L488.16 25.26 L488.23 23.87 L488.3 22.47 L488.37 21.06 L488.43 19.65 L488.5 18.23 L488.57 16.8 L488.64 15.37 L488.71 13.94 L488.78 12.5 L488.84 11.06 L488.91 9.62 L488.98 8.18 L489.05 6.74 L489.12 5.3 L489.19 3.84 L489.25 2.39 L489.32 0.92" stroke-width="1.7" stroke-linejoin="round"/>
</g>
<g fill="#000" clip-path="url(#cB)"><circle cx="302.09" cy="235.95" r="2.7"/><circle cx="325.49" cy="228.33" r="2.7"/><circle cx="345.61" cy="223.97" r="2.7"/><circle cx="363.98" cy="220.6" r="2.7"/><circle cx="384.76" cy="215.85" r="2.7"/><circle cx="428.72" cy="204.37" r="2.7"/><circle cx="450.59" cy="197.38" r="2.7"/><circle cx="474.86" cy="183.15" r="2.7"/><circle cx="484.27" cy="155.19" r="2.7"/></g>
<g fill="#ff8a14" stroke="#000" stroke-width="0.6" clip-path="url(#cB)"><circle cx="288.31" cy="235.32" r="2.3"/><circle cx="290.94" cy="234.08" r="2.3"/><circle cx="293.56" cy="232.95" r="2.3"/><circle cx="296.4" cy="231.58" r="2.3"/><circle cx="299.03" cy="230.08" r="2.3"/><circle cx="301.87" cy="228.96" r="2.3"/><circle cx="304.71" cy="227.71" r="2.3"/><circle cx="315.65" cy="224.84" r="2.3"/><circle cx="324.83" cy="221.34" r="2.3"/><circle cx="341.89" cy="215.6" r="2.3"/><circle cx="345.61" cy="215.6" r="2.3"/><circle cx="361.14" cy="207.99" r="2.3"/><circle cx="363.32" cy="209.24" r="2.3"/><circle cx="378.2" cy="202.75" r="2.3"/><circle cx="381.7" cy="202.87" r="2.3"/><circle cx="393.72" cy="197.76" r="2.3"/><circle cx="403.35" cy="196.13" r="2.3"/><circle cx="416.69" cy="190.52" r="2.3"/><circle cx="421.72" cy="186.52" r="2.3"/><circle cx="430.68" cy="184.15" r="2.3"/><circle cx="439.87" cy="179.66" r="2.3"/><circle cx="444.68" cy="176.66" r="2.3"/><circle cx="459.33" cy="167.43" r="2.3"/><circle cx="461.74" cy="164.43" r="2.3"/><circle cx="478.8" cy="152.07" r="2.3"/><circle cx="480.55" cy="147.83" r="2.3"/><circle cx="483.17" cy="147.83" r="2.3"/><circle cx="484.7" cy="141.21" r="2.3"/><circle cx="486.23" cy="131.98" r="2.3"/><circle cx="487.76" cy="124.74" r="2.3"/><circle cx="489.51" cy="115.25" r="2.3"/><circle cx="490.61" cy="109.14" r="2.3"/><circle cx="491.92" cy="92.66" r="2.3"/><circle cx="493.45" cy="58.96" r="2.3"/></g>
<rect x="283.6" y="37.5" width="155.4" height="44.8" rx="2" fill="#fff" fill-opacity="0.8" stroke="#d4d4d4" stroke-width="0.8"/>
<path d="M285.9 43.3H301.2" stroke="#000" stroke-width="1.4" stroke-dasharray="3.9,1.8"/>
<path d="M285.9 54H301.2" stroke="#000" stroke-width="1.3" stroke-dasharray="1.2,1.8"/>
<circle cx="293.55" cy="54" r="2.7"/>
<path d="M285.9 64.6H301.2" stroke="#000" stroke-width="1.7"/>
<circle cx="293.55" cy="75.4" r="2.3" fill="#ff8a14" stroke="#000" stroke-width="0.6"/>
<text transform="translate(307,45.85) scale(1.078,1)" font-size="7.63">Brine only (model)</text>
<text transform="translate(307,56.55) scale(1.080,1)" font-size="7.63">Regolith only (experiment)</text>
<text transform="translate(307,67.15) scale(1.090,1)" font-size="7.63">Ideal brine-regolith mixture (model)</text>
<text transform="translate(307,77.95) scale(1.092,1)" font-size="7.63">Experimental brine-regolith mixture</text>
<rect x="280" y="34" width="218.7" height="217.3" fill="none" stroke="#8a8a8a" stroke-width="1.6"/>
<path d="M280 251.3v2.5M323.74 251.3v2.5M367.48 251.3v2.5M411.22 251.3v2.5M454.96 251.3v2.5M498.7 251.3v2.5M280 34v-2.5M323.74 34v-2.5M367.48 34v-2.5M411.22 34v-2.5M454.96 34v-2.5M498.7 34v-2.5M280 251.3h-2.5M280 226.34h-2.5M280 201.37h-2.5M280 176.41h-2.5M280 151.45h-2.5M280 126.49h-2.5M280 101.52h-2.5M280 76.56h-2.5M280 51.6h-2.5" stroke="#333" stroke-width="0.9"/>
<text transform="translate(280,261.7) scale(1.079,1)" font-size="7.63" text-anchor="middle">0</text>
<text transform="translate(323.74,261.7) scale(1.079,1)" font-size="7.63" text-anchor="middle">20</text>
<text transform="translate(367.48,261.7) scale(1.079,1)" font-size="7.63" text-anchor="middle">40</text>
<text transform="translate(411.22,261.7) scale(1.079,1)" font-size="7.63" text-anchor="middle">60</text>
<text transform="translate(454.96,261.7) scale(1.079,1)" font-size="7.63" text-anchor="middle">80</text>
<text transform="translate(498.7,261.7) scale(1.079,1)" font-size="7.63" text-anchor="middle">100</text>
<text transform="translate(280,27.6) scale(1.079,1)" font-size="7.63" text-anchor="middle">0.0</text>
<text transform="translate(323.74,27.6) scale(1.079,1)" font-size="7.63" text-anchor="middle">0.2</text>
<text transform="translate(367.48,27.6) scale(1.079,1)" font-size="7.63" text-anchor="middle">0.4</text>
<text transform="translate(411.22,27.6) scale(1.079,1)" font-size="7.63" text-anchor="middle">0.6</text>
<text transform="translate(454.96,27.6) scale(1.079,1)" font-size="7.63" text-anchor="middle">0.8</text>
<text transform="translate(498.7,27.6) scale(1.079,1)" font-size="7.63" text-anchor="middle">1.0</text>
<text transform="translate(275.2,254) scale(1.079,1)" font-size="7.63" text-anchor="end">0</text>
<text transform="translate(275.2,229.04) scale(1.079,1)" font-size="7.63" text-anchor="end">2</text>
<text transform="translate(275.2,204.07) scale(1.079,1)" font-size="7.63" text-anchor="end">4</text>
<text transform="translate(275.2,179.11) scale(1.079,1)" font-size="7.63" text-anchor="end">6</text>
<text transform="translate(275.2,154.15) scale(1.079,1)" font-size="7.63" text-anchor="end">8</text>
<text transform="translate(275.2,129.19) scale(1.079,1)" font-size="7.63" text-anchor="end">10</text>
<text transform="translate(275.2,104.22) scale(1.079,1)" font-size="7.63" text-anchor="end">12</text>
<text transform="translate(275.2,79.26) scale(1.079,1)" font-size="7.63" text-anchor="end">14</text>
<text transform="translate(275.2,54.3) scale(1.079,1)" font-size="7.63" text-anchor="end">16</text>
<text transform="translate(389.35,271.7) scale(1.080,1)" font-size="7.63" text-anchor="middle">Relative humidity (%)</text>
<text transform="translate(389.35,18.8) scale(1.119,1)" font-size="7.63" text-anchor="middle">water activity</text>
<text transform="translate(389.35,9.4) scale(1.036,1)" font-size="9.16" text-anchor="middle"><tspan>1.0 wt.% Mg(ClO</tspan><tspan font-size="6.41" dy="1.47">4</tspan><tspan dy="-1.47">)</tspan><tspan font-size="6.41" dy="1.47">2</tspan><tspan dy="-1.47"> in MMS</tspan></text>
<text transform="translate(258.9,9.7) scale(1.090,1)" font-size="12.72" font-weight="bold" stroke="#111" stroke-width="0.3">B)</text>
<clipPath id="cC"><rect x="535.0" y="34.0" width="218.6" height="217.3"/></clipPath>
<path d="M535 34V251.3M578.72 34V251.3M622.44 34V251.3M666.16 34V251.3M709.88 34V251.3M753.6 34V251.3M535 251.3H753.6M535 221.82H753.6M535 192.33H753.6M535 162.85H753.6M535 133.36H753.6M535 103.88H753.6M535 74.39H753.6M535 44.91H753.6" stroke="#c4c4c4" stroke-width="0.9" stroke-dasharray="1.6,1.45" fill="none"/>
<g clip-path="url(#cC)" fill="none" stroke="#000">
<path d="M535 235.6 L536.09 235.6 L537.19 235.6 L538.28 235.6 L539.37 235.6 L540.47 235.6 L541.56 235.6 L542.65 235.6 L543.74 235.6 L544.84 235.6 L545.93 235.6 L547.02 235.6 L548.12 235.6 L549.21 235.6 L550.3 235.6 L551.39 235.6 L552.49 235.6 L553.58 235.6 L554.67 235.6 L555.77 235.6 L556.86 235.6 L557.95 235.6 L559.05 235.6 L560.14 235.6 L561.23 235.6 L562.33 235.6 L563.42 235.6 L564.51 235.6 L565.6 235.6 L566.7 235.6 L567.79 235.6 L568.88 235.6 L569.98 235.6 L571.07 235.6 L572.16 235.6 L573.25 235.6 L574.35 235.6 L575.44 235.6 L576.53 235.6 L577.63 235.6 L578.72 235.6 L579.81 235.6 L580.91 235.6 L582 235.6 L583.09 235.6 L584.19 235.6 L585.28 235.6 L586.37 235.6 L587.46 235.6 L588.56 235.6 L589.65 235.6 L590.74 235.6 L591.84 235.6 L592.93 235.6 L594.02 235.6 L595.12 235.6 L596.21 235.6 L597.3 235.6 L598.39 235.6 L599.49 235.6 L600.58 235.6 L601.67 235.6 L602.77 235.6 L603.86 235.6 L604.95 235.6 L606.05 235.6 L607.14 235.6 L608.23 235.6 L609.32 235.6 L610.42 235.6 L611.51 235.6 L612.6 235.6 L613.7 235.6 L614.79 235.6 L615.88 235.6 L616.98 235.6 L618.07 235.6 L619.16 235.6 L620.25 235.6 L621.35 235.6 L622.44 235.6 L623.31 235.6 L623.31 235.6 L623.31 218.73 L624.41 218.49 L625.5 218.25 L626.59 218.01 L627.69 217.76 L628.78 217.52 L629.87 217.27 L630.97 217.02 L632.06 216.76 L633.15 216.51 L634.24 216.25 L635.34 215.99 L636.43 215.72 L637.52 215.46 L638.62 215.19 L639.71 214.92 L640.8 214.65 L641.9 214.37 L642.99 214.09 L644.08 213.81 L645.17 213.53 L646.27 213.24 L647.36 212.95 L648.45 212.66 L649.55 212.36 L650.64 212.06 L651.73 211.76 L652.83 211.45 L653.92 211.14 L655.01 210.82 L656.1 210.5 L657.2 210.18 L658.29 209.85 L659.38 209.52 L660.48 209.18 L661.57 208.84 L662.66 208.48 L663.76 208.13 L664.85 207.76 L665.94 207.39 L667.03 207.01 L668.13 206.63 L669.22 206.23 L670.31 205.82 L671.41 205.41 L672.5 204.98 L673.59 204.55 L674.69 204.1 L675.78 203.64 L676.87 203.17 L677.96 202.68 L679.06 202.18 L680.15 201.67 L681.24 201.14 L682.34 200.6 L683.43 200.04 L684.52 199.46 L685.62 198.87 L686.71 198.26 L687.8 197.63 L688.89 196.99 L689.99 196.32 L691.08 195.64 L692.17 194.93 L693.27 194.2 L694.36 193.45 L695.45 192.68 L696.55 191.88 L697.64 191.05 L698.73 190.2 L699.82 189.33 L700.92 188.42 L702.01 187.49 L703.1 186.52 L704.2 185.52 L704.74 185 L705.29 184.48 L705.84 183.95 L706.38 183.4 L706.93 182.85 L707.48 182.29 L708.02 181.72 L708.57 181.13 L709.11 180.54 L709.66 179.93 L710.21 179.31 L710.75 178.68 L711.3 178.03 L711.85 177.37 L712.39 176.7 L712.94 176.01 L713.49 175.3 L714.03 174.59 L714.58 173.85 L715.13 173.1 L715.67 172.33 L716.22 171.54 L716.77 170.73 L717.31 169.9 L717.86 169.05 L718.41 168.18 L718.95 167.29 L719.5 166.37 L720.04 165.42 L720.59 164.45 L721.14 163.46 L721.68 162.43 L722.23 161.37 L722.78 160.29 L723.32 159.16 L723.87 158.01 L724.42 156.81 L724.96 155.58 L725.51 154.3 L726.06 152.99 L726.6 151.62 L726.88 150.92 L727.15 150.21 L727.42 149.48 L727.7 148.74 L727.97 147.99 L728.24 147.22 L728.52 146.44 L728.79 145.64 L729.06 144.83 L729.34 144 L729.61 143.15 L729.88 142.29 L730.16 141.41 L730.43 140.51 L730.7 139.59 L730.97 138.66 L731.25 137.7 L731.52 136.72 L731.79 135.72 L732.07 134.7 L732.34 133.65 L732.61 132.58 L732.89 131.48 L733.16 130.36 L733.43 129.21 L733.71 128.03 L733.98 126.82 L734.25 125.59 L734.53 124.31 L734.8 123.01 L735.07 121.67 L735.35 120.3 L735.62 118.89 L735.89 117.43 L736.03 116.69 L736.17 115.94 L736.3 115.18 L736.44 114.4 L736.58 113.62 L736.71 112.82 L736.85 112.01 L736.99 111.19 L737.12 110.36 L737.26 109.51 L737.4 108.66 L737.53 107.78 L737.67 106.9 L737.81 106 L737.94 105.08 L738.08 104.15 L738.22 103.21 L738.35 102.25 L738.49 101.27 L738.63 100.28 L738.76 99.27 L738.9 98.25 L739.04 97.2 L739.17 96.14 L739.31 95.06 L739.45 93.96 L739.58 92.84 L739.72 91.69 L739.86 90.53 L739.99 89.35 L740.13 88.14 L740.27 86.91 L740.4 85.66 L740.54 84.38 L740.68 83.08 L740.81 81.75 L740.95 80.4 L741.09 79.01 L741.22 77.6 L741.36 76.16 L741.5 74.69 L741.56 73.94 L741.63 73.19 L741.7 72.42 L741.77 71.65 L741.84 70.87 L741.9 70.08 L741.97 69.29 L742.04 68.48 L742.11 67.66 L742.18 66.84 L742.25 66.01 L742.31 65.16 L742.38 64.31 L742.45 63.44 L742.52 62.57 L742.59 61.69 L742.66 60.79 L742.72 59.89 L742.79 58.97 L742.86 58.05 L742.93 57.11 L743 56.16 L743.07 55.2 L743.13 54.23 L743.2 53.24 L743.27 52.25 L743.34 51.24 L743.41 50.21 L743.48 49.18 L743.54 48.13 L743.61 47.07 L743.68 45.99 L743.75 44.9 L743.82 43.79 L743.89 42.67 L743.95 41.54 L744.02 40.39 L744.09 39.22 L744.16 38.04 L744.23 36.84 L744.3 35.62 L744.36 34.39 L744.43 33.14 L744.5 31.87 L744.57 30.58 L744.64 29.27 L744.71 27.95 L744.77 26.6 L744.84 25.24 L744.91 23.85 L744.98 22.44 L745.05 21.01 L745.12 19.56 L745.18 18.09 L745.25 16.59 L745.29 15.83 L745.32 15.07 L745.35 14.3 L745.39 13.53 L745.42 12.74 L745.46 11.96 L745.49 11.16 L745.53 10.36 L745.56 9.55 L745.59 8.74 L745.63 7.92 L745.66 7.09 L745.7 6.25 L745.73 5.41 L745.76 4.56 L745.8 3.71 L745.83 2.84 L745.87 1.97 L745.9 1.09" stroke-width="1.4" stroke-dasharray="3.9,1.8"/>
<path d="M535 251.3 L535.55 250.73 L536.09 250.18 L536.64 249.63 L537.19 249.09 L537.73 248.56 L538.28 248.05 L538.83 247.54 L539.37 247.02 L539.92 246.51 L540.47 245.98 L541.01 245.47 L541.56 244.96 L542.1 244.47 L542.65 243.99 L543.2 243.52 L543.74 243.04 L544.29 242.56 L544.84 242.08 L545.38 241.6 L545.93 241.13 L546.48 240.67 L547.02 240.22 L547.57 239.79 L548.12 239.36 L548.66 238.94 L549.21 238.54 L549.76 238.14 L550.3 237.74 L550.85 237.33 L551.39 236.92 L551.94 236.51 L552.49 236.12 L553.03 235.73 L553.58 235.36 L554.13 235 L554.67 234.64 L555.22 234.3 L555.77 233.96 L556.31 233.64 L556.86 233.31 L557.41 232.99 L557.95 232.66 L558.5 232.33 L559.05 232.01 L559.59 231.69 L560.14 231.38 L560.69 231.09 L561.23 230.81 L561.78 230.54 L562.33 230.29 L562.87 230.04 L563.75 229.66 L564.62 229.29 L565.49 228.94 L566.37 228.59 L567.24 228.25 L568.12 227.92 L568.99 227.61 L569.87 227.31 L570.74 227.02 L571.62 226.74 L572.49 226.48 L573.36 226.22 L574.24 225.97 L575.11 225.74 L575.99 225.52 L576.86 225.3 L577.74 225.09 L578.61 224.87 L579.49 224.63 L580.36 224.39 L581.23 224.15 L582.11 223.9 L582.98 223.66 L583.86 223.42 L584.73 223.18 L585.61 222.95 L586.48 222.72 L587.35 222.49 L588.23 222.26 L589.1 222.04 L589.98 221.81 L590.85 221.59 L591.73 221.37 L592.6 221.15 L593.48 220.93 L594.35 220.71 L595.22 220.5 L596.1 220.28 L596.97 220.07 L597.85 219.85 L598.72 219.64 L599.6 219.43 L600.47 219.21 L601.35 219 L602.22 218.79 L603.09 218.58 L603.97 218.37 L604.84 218.16 L605.72 217.95 L606.59 217.74 L607.47 217.53 L608.34 217.32 L609.21 217.11 L610.09 216.9 L610.96 216.7 L611.84 216.49 L612.71 216.28 L613.59 216.07 L614.46 215.86 L615.34 215.65 L616.21 215.44 L617.08 215.23 L617.96 215.02 L618.83 214.81 L619.71 214.6 L620.58 214.38 L621.46 214.17 L622.33 213.96 L623.21 213.75 L624.08 213.53 L624.95 213.32 L625.83 213.1 L626.7 212.89 L627.58 212.67 L628.45 212.46 L629.33 212.24 L630.2 212.02 L631.07 211.8 L631.95 211.58 L632.82 211.36 L633.7 211.14 L634.57 210.92 L635.45 210.69 L636.32 210.47 L637.2 210.24 L638.07 210.01 L638.94 209.79 L639.82 209.56 L640.69 209.33 L641.57 209.1 L642.44 208.86 L643.32 208.63 L644.19 208.4 L645.07 208.16 L645.94 207.92 L646.81 207.68 L647.69 207.44 L648.56 207.2 L649.44 206.96 L650.31 206.71 L651.19 206.47 L652.06 206.22 L652.93 205.97 L653.81 205.72 L654.68 205.46 L655.56 205.21 L656.43 204.95 L657.31 204.7 L658.18 204.44 L659.06 204.18 L659.93 203.91 L660.8 203.65 L661.68 203.38 L662.55 203.11 L663.43 202.84 L664.3 202.57 L665.18 202.29 L666.05 202.01 L666.93 201.73 L667.8 201.45 L668.67 201.17 L669.55 200.88 L670.42 200.59 L671.3 200.3 L672.17 200.01 L673.05 199.71 L673.92 199.41 L674.79 199.11 L675.67 198.81 L676.54 198.5 L677.42 198.2 L678.29 197.88 L679.17 197.57 L680.04 197.25 L680.92 196.93 L681.79 196.61 L682.66 196.28 L683.54 195.95 L684.41 195.61 L685.29 195.26 L686.16 194.92 L687.04 194.58 L687.91 194.26 L688.79 193.95 L689.66 193.66 L690.53 193.37 L691.41 193.08 L692.28 192.77 L693.16 192.45 L694.03 192.12 L694.91 191.78 L695.78 191.44 L696.65 191.09 L697.53 190.74 L698.4 190.4 L699.28 190.05 L700.15 189.72 L701.03 189.39 L701.9 189.06 L702.78 188.72 L703.65 188.38 L704.52 188.03 L705.4 187.66 L706.27 187.28 L707.15 186.88 L708.02 186.47 L708.9 186.04 L709.77 185.61 L710.65 185.15 L711.52 184.67 L712.39 184.17 L713.27 183.67 L714.14 183.16 L715.02 182.66 L715.89 182.18 L716.77 181.71 L717.64 181.25 L718.51 180.77 L719.39 180.27 L720.26 179.72 L721.14 179.14 L722.01 178.53 L722.89 177.87 L723.76 177.18 L724.64 176.45 L725.51 175.68 L726.38 174.85 L727.26 173.93 L728.13 172.94 L729.01 171.89 L729.88 170.82 L730.76 169.69 L731.19 169.1 L731.63 168.47 L732.07 167.79 L732.51 167.07 L732.94 166.29 L733.38 165.45 L733.82 164.53 L734.25 163.54 L734.69 162.53 L735.13 161.4 L735.35 160.73 L735.57 159.96 L735.78 159.1 L736 158.17 L736.22 157.17 L736.44 156.12 L736.66 154.99 L736.88 153.77 L737.1 152.47 L737.31 151.08 L737.53 149.61 L737.64 148.84 L737.75 148.04 L737.86 147.2 L737.97 146.32 L738.08 145.41 L738.19 144.46 L738.3 143.48 L738.41 142.46 L738.52 141.42 L738.63 140.35 L738.74 139.26 L738.84 138.13 L738.95 136.95 L739.06 135.72 L739.17 134.45 L739.28 133.13 L739.39 131.77 L739.5 130.37 L739.61 128.94 L739.72 127.45 L739.77 126.67 L739.83 125.88 L739.88 125.07 L739.94 124.24 L739.99 123.41 L740.05 122.56 L740.1 121.71 L740.16 120.85 L740.21 119.99 L740.27 119.12 L740.32 118.26 L740.37 117.39 L740.43 116.53 L740.48 115.67 L740.54 114.81 L740.59 113.95 L740.65 113.08 L740.7 112.21 L740.76 111.33 L740.81 110.45 L740.87 109.57 L740.92 108.68 L740.98 107.79 L741.03 106.9 L741.09 106.01 L741.14 105.11 L741.19 104.22 L741.25 103.33 L741.3 102.43 L741.36 101.54 L741.41 100.65 L741.47 99.76 L741.52 98.87 L741.58 97.98 L741.63 97.1 L741.69 96.22 L741.74 95.34 L741.8 94.47 L741.85 93.59 L741.9 92.72 L741.96 91.85 L742.01 90.97 L742.07 90.1 L742.12 89.22 L742.18 88.35 L742.23 87.47 L742.29 86.59 L742.34 85.7 L742.4 84.81 L742.45 83.92 L742.51 83.02 L742.56 82.12 L742.62 81.21 L742.67 80.29 L742.72 79.37 L742.78 78.44 L742.83 77.5 L742.89 76.56 L742.94 75.61 L743 74.65 L743.05 73.7 L743.11 72.73 L743.16 71.77 L743.22 70.8 L743.27 69.84 L743.33 68.87 L743.38 67.89 L743.44 66.92 L743.49 65.95 L743.54 64.98 L743.6 64.02 L743.65 63.05 L743.71 62.09 L743.76 61.13 L743.82 60.17 L743.87 59.22 L743.93 58.26 L743.98 57.32 L744.04 56.37 L744.09 55.42 L744.15 54.47 L744.2 53.53 L744.25 52.58 L744.31 51.63 L744.36 50.68 L744.42 49.73 L744.47 48.77 L744.53 47.81 L744.58 46.85 L744.64 45.88 L744.69 44.91 L744.75 43.93 L744.8 42.95 L744.86 41.96 L744.91 40.97 L744.97 39.97 L745.02 38.96 L745.07 37.95 L745.13 36.94 L745.18 35.93 L745.24 34.91 L745.29 33.88 L745.35 32.86 L745.4 31.83 L745.46 30.79 L745.51 29.75 L745.57 28.71 L745.62 27.67 L745.68 26.62 L745.73 25.57 L745.79 24.51 L745.84 23.45 L745.89 22.39 L745.95 21.32 L746 20.25 L746.06 19.18 L746.11 18.11 L746.17 17.04 L746.22 15.97 L746.28 14.89 L746.33 13.8 L746.39 12.72 L746.44 11.63 L746.5 10.53 L746.55 9.43 L746.6 8.33 L746.66 7.21 L746.71 6.09 L746.77 4.97 L746.82 3.83 L746.88 2.69 L746.93 1.54 L746.99 0.38" stroke-width="1.3" stroke-dasharray="1.2,1.8"/>
<path d="M535 235.6 L535.55 235.04 L536.09 234.48 L536.64 233.93 L537.19 233.39 L537.73 232.87 L538.28 232.35 L538.83 231.84 L539.37 231.33 L539.92 230.81 L540.47 230.29 L541.01 229.77 L541.56 229.26 L542.1 228.77 L542.65 228.3 L543.2 227.82 L543.74 227.35 L544.29 226.86 L544.84 226.38 L545.38 225.9 L545.93 225.43 L546.48 224.97 L547.02 224.53 L547.57 224.09 L548.12 223.66 L548.66 223.25 L549.21 222.84 L549.76 222.44 L550.3 222.04 L550.85 221.63 L551.39 221.22 L551.94 220.81 L552.49 220.42 L553.03 220.04 L553.58 219.66 L554.13 219.3 L554.67 218.94 L555.22 218.6 L555.77 218.27 L556.31 217.94 L556.86 217.62 L557.41 217.29 L557.95 216.96 L558.5 216.64 L559.05 216.31 L559.59 215.99 L560.14 215.69 L560.69 215.39 L561.23 215.11 L561.78 214.84 L562.33 214.59 L562.87 214.34 L563.75 213.96 L564.62 213.59 L565.49 213.24 L566.37 212.89 L567.24 212.55 L568.12 212.23 L568.99 211.91 L569.87 211.61 L570.74 211.32 L571.62 211.05 L572.49 210.78 L573.36 210.52 L574.24 210.28 L575.11 210.04 L575.99 209.82 L576.86 209.61 L577.74 209.39 L578.61 209.17 L579.49 208.94 L580.36 208.7 L581.23 208.45 L582.11 208.2 L582.98 207.96 L583.86 207.72 L584.73 207.48 L585.61 207.25 L586.48 207.02 L587.35 206.79 L588.23 206.57 L589.1 206.34 L589.98 206.12 L590.85 205.89 L591.73 205.67 L592.6 205.45 L593.48 205.23 L594.35 205.02 L595.22 204.8 L596.1 204.58 L596.97 204.37 L597.85 204.16 L598.72 203.94 L599.6 203.73 L600.47 203.52 L601.35 203.3 L602.22 203.09 L603.09 202.88 L603.97 202.67 L604.84 202.46 L605.72 202.25 L606.59 202.04 L607.47 201.83 L608.34 201.62 L609.21 201.42 L610.09 201.21 L610.96 201 L611.84 200.79 L612.71 200.58 L613.59 200.37 L614.46 200.16 L615.34 199.95 L616.21 199.74 L617.08 199.53 L617.96 199.32 L618.83 199.11 L619.71 198.9 L620.58 198.69 L621.46 198.48 L622.33 198.26 L623.21 198.05 L623.31 198.02 L623.31 198.02 L623.31 181.15 L624.41 180.64 L625.5 180.13 L626.59 179.62 L627.69 179.11 L628.78 178.59 L629.87 178.07 L630.97 177.54 L632.06 177.02 L633.15 176.48 L634.24 175.95 L635.34 175.41 L636.43 174.86 L637.52 174.32 L638.62 173.76 L639.71 173.21 L640.8 172.65 L641.9 172.08 L642.99 171.51 L644.08 170.94 L645.17 170.36 L646.27 169.77 L647.36 169.18 L648.45 168.59 L649.55 167.98 L650.64 167.38 L651.73 166.77 L652.83 166.15 L653.92 165.52 L655.01 164.89 L656.1 164.25 L657.2 163.61 L658.29 162.96 L659.38 162.3 L660.48 161.63 L661.57 160.95 L662.66 160.26 L663.76 159.57 L664.85 158.86 L665.94 158.14 L667.03 157.41 L668.13 156.67 L669.22 155.92 L670.31 155.15 L671.41 154.38 L672.5 153.58 L673.59 152.77 L674.69 151.95 L675.78 151.11 L676.87 150.26 L677.96 149.38 L679.06 148.49 L680.15 147.58 L681.24 146.65 L682.34 145.7 L683.43 144.73 L684.52 143.73 L685.62 142.7 L686.16 142.19 L686.71 141.67 L687.25 141.15 L687.8 140.63 L688.35 140.11 L688.89 139.6 L689.44 139.09 L689.99 138.57 L690.53 138.05 L691.08 137.52 L691.63 136.99 L692.17 136.44 L692.72 135.88 L693.27 135.31 L693.81 134.73 L694.36 134.14 L694.91 133.55 L695.45 132.94 L696 132.33 L696.55 131.71 L697.09 131.09 L697.64 130.45 L698.18 129.82 L698.73 129.17 L699.28 128.52 L699.82 127.87 L700.37 127.21 L700.92 126.55 L701.46 125.88 L702.01 125.2 L702.56 124.51 L703.1 123.81 L703.65 123.1 L704.2 122.38 L704.74 121.64 L705.29 120.89 L705.84 120.12 L706.38 119.33 L706.93 118.53 L707.48 117.72 L708.02 116.89 L708.57 116.04 L709.11 115.17 L709.66 114.29 L710.21 113.39 L710.75 112.46 L711.3 111.52 L711.85 110.55 L712.39 109.57 L712.94 108.56 L713.49 107.55 L714.03 106.51 L714.58 105.46 L715.13 104.4 L715.67 103.33 L716.22 102.24 L716.77 101.14 L717.31 100.02 L717.86 98.88 L718.41 97.71 L718.95 96.51 L719.5 95.27 L720.04 93.99 L720.59 92.66 L721.14 91.3 L721.41 90.6 L721.68 89.89 L721.96 89.17 L722.23 88.44 L722.5 87.7 L722.78 86.94 L723.05 86.18 L723.32 85.4 L723.6 84.61 L723.87 83.8 L724.14 82.98 L724.42 82.15 L724.69 81.31 L724.96 80.45 L725.24 79.57 L725.51 78.68 L725.78 77.78 L726.06 76.86 L726.33 75.91 L726.6 74.95 L726.88 73.96 L727.15 72.96 L727.42 71.93 L727.7 70.88 L727.97 69.82 L728.24 68.73 L728.52 67.63 L728.79 66.5 L729.06 65.36 L729.34 64.19 L729.61 63.01 L729.88 61.81 L730.16 60.59 L730.43 59.34 L730.7 58.06 L730.97 56.76 L731.25 55.42 L731.52 54.05 L731.79 52.64 L732.07 51.19 L732.2 50.45 L732.34 49.7 L732.48 48.93 L732.61 48.16 L732.75 47.37 L732.89 46.58 L733.02 45.77 L733.16 44.94 L733.3 44.1 L733.43 43.25 L733.57 42.38 L733.71 41.49 L733.84 40.6 L733.98 39.69 L734.12 38.76 L734.25 37.83 L734.39 36.88 L734.53 35.92 L734.66 34.96 L734.8 33.98 L734.94 32.97 L735.07 31.93 L735.21 30.85 L735.35 29.73 L735.48 28.55 L735.62 27.34 L735.76 26.08 L735.89 24.78 L736.03 23.44 L736.17 22.07 L736.3 20.66 L736.44 19.23 L736.58 17.74 L736.64 16.98 L736.71 16.22 L736.78 15.44 L736.85 14.64 L736.92 13.84 L736.99 13.03 L737.05 12.2 L737.12 11.36 L737.19 10.51 L737.26 9.65 L737.33 8.78 L737.4 7.9 L737.46 7 L737.53 6.09 L737.6 5.17 L737.67 4.24 L737.74 3.29 L737.81 2.32 L737.87 1.34" stroke-width="1.7" stroke-linejoin="round"/>
</g>
<g fill="#000" clip-path="url(#cC)"><circle cx="557.08" cy="233.17" r="2.7"/><circle cx="580.47" cy="224.17" r="2.7"/><circle cx="600.58" cy="219.01" r="2.7"/><circle cx="618.94" cy="215.03" r="2.7"/><circle cx="639.71" cy="209.43" r="2.7"/><circle cx="683.65" cy="195.87" r="2.7"/><circle cx="705.51" cy="187.61" r="2.7"/><circle cx="729.77" cy="170.81" r="2.7"/><circle cx="739.17" cy="137.79" r="2.7"/></g>
<g fill="#2eb02e" stroke="#000" stroke-width="0.6" clip-path="url(#cC)"><circle cx="542" cy="232.72" r="2.3"/><circle cx="543.53" cy="230.51" r="2.3"/><circle cx="545.71" cy="228.6" r="2.3"/><circle cx="547.9" cy="227.27" r="2.3"/><circle cx="550.08" cy="226.68" r="2.3"/><circle cx="552.05" cy="225.65" r="2.3"/><circle cx="555.11" cy="224.47" r="2.3"/><circle cx="557.08" cy="221.96" r="2.3"/><circle cx="560.14" cy="221.08" r="2.3"/><circle cx="560.58" cy="222.26" r="2.3"/><circle cx="564.95" cy="219.6" r="2.3"/><circle cx="588.99" cy="209.87" r="2.3"/><circle cx="606.92" cy="202.06" r="2.3"/><circle cx="634.9" cy="189.83" r="2.3"/><circle cx="655.01" cy="181.72" r="2.3"/><circle cx="667.91" cy="174.05" r="2.3"/><circle cx="686.05" cy="164.76" r="2.3"/><circle cx="702.88" cy="148.25" r="2.3"/><circle cx="719.28" cy="129.38" r="2.3"/><circle cx="738.95" cy="63.48" r="2.3"/></g>
<rect x="538.6" y="37.5" width="155.4" height="44.8" rx="2" fill="#fff" fill-opacity="0.8" stroke="#d4d4d4" stroke-width="0.8"/>
<path d="M540.9 43.3H556.2" stroke="#000" stroke-width="1.4" stroke-dasharray="3.9,1.8"/>
<path d="M540.9 54H556.2" stroke="#000" stroke-width="1.3" stroke-dasharray="1.2,1.8"/>
<circle cx="548.55" cy="54" r="2.7"/>
<path d="M540.9 64.6H556.2" stroke="#000" stroke-width="1.7"/>
<circle cx="548.55" cy="75.4" r="2.3" fill="#2eb02e" stroke="#000" stroke-width="0.6"/>
<text transform="translate(562,45.85) scale(1.078,1)" font-size="7.63">Brine only (model)</text>
<text transform="translate(562,56.55) scale(1.080,1)" font-size="7.63">Regolith only (experiment)</text>
<text transform="translate(562,67.15) scale(1.090,1)" font-size="7.63">Ideal brine-regolith mixture (model)</text>
<text transform="translate(562,77.95) scale(1.092,1)" font-size="7.63">Experimental brine-regolith mixture</text>
<rect x="535" y="34" width="218.6" height="217.3" fill="none" stroke="#8a8a8a" stroke-width="1.6"/>
<path d="M535 251.3v2.5M578.72 251.3v2.5M622.44 251.3v2.5M666.16 251.3v2.5M709.88 251.3v2.5M753.6 251.3v2.5M535 34v-2.5M578.72 34v-2.5M622.44 34v-2.5M666.16 34v-2.5M709.88 34v-2.5M753.6 34v-2.5M535 251.3h-2.5M535 221.82h-2.5M535 192.33h-2.5M535 162.85h-2.5M535 133.36h-2.5M535 103.88h-2.5M535 74.39h-2.5M535 44.91h-2.5" stroke="#333" stroke-width="0.9"/>
<text transform="translate(535,261.7) scale(1.079,1)" font-size="7.63" text-anchor="middle">0</text>
<text transform="translate(578.72,261.7) scale(1.079,1)" font-size="7.63" text-anchor="middle">20</text>
<text transform="translate(622.44,261.7) scale(1.079,1)" font-size="7.63" text-anchor="middle">40</text>
<text transform="translate(666.16,261.7) scale(1.079,1)" font-size="7.63" text-anchor="middle">60</text>
<text transform="translate(709.88,261.7) scale(1.079,1)" font-size="7.63" text-anchor="middle">80</text>
<text transform="translate(753.6,261.7) scale(1.079,1)" font-size="7.63" text-anchor="middle">100</text>
<text transform="translate(535,27.6) scale(1.079,1)" font-size="7.63" text-anchor="middle">0.0</text>
<text transform="translate(578.72,27.6) scale(1.079,1)" font-size="7.63" text-anchor="middle">0.2</text>
<text transform="translate(622.44,27.6) scale(1.079,1)" font-size="7.63" text-anchor="middle">0.4</text>
<text transform="translate(666.16,27.6) scale(1.079,1)" font-size="7.63" text-anchor="middle">0.6</text>
<text transform="translate(709.88,27.6) scale(1.079,1)" font-size="7.63" text-anchor="middle">0.8</text>
<text transform="translate(753.6,27.6) scale(1.079,1)" font-size="7.63" text-anchor="middle">1.0</text>
<text transform="translate(530.2,254) scale(1.079,1)" font-size="7.63" text-anchor="end">0</text>
<text transform="translate(530.2,224.52) scale(1.079,1)" font-size="7.63" text-anchor="end">2</text>
<text transform="translate(530.2,195.03) scale(1.079,1)" font-size="7.63" text-anchor="end">4</text>
<text transform="translate(530.2,165.55) scale(1.079,1)" font-size="7.63" text-anchor="end">6</text>
<text transform="translate(530.2,136.06) scale(1.079,1)" font-size="7.63" text-anchor="end">8</text>
<text transform="translate(530.2,106.58) scale(1.079,1)" font-size="7.63" text-anchor="end">10</text>
<text transform="translate(530.2,77.09) scale(1.079,1)" font-size="7.63" text-anchor="end">12</text>
<text transform="translate(530.2,47.61) scale(1.079,1)" font-size="7.63" text-anchor="end">14</text>
<text transform="translate(644.3,271.7) scale(1.080,1)" font-size="7.63" text-anchor="middle">Relative humidity (%)</text>
<text transform="translate(644.3,18.8) scale(1.119,1)" font-size="7.63" text-anchor="middle">water activity</text>
<text transform="translate(644.3,9.4) scale(1.036,1)" font-size="9.16" text-anchor="middle"><tspan>2.2 wt.% Mg(ClO</tspan><tspan font-size="6.41" dy="1.47">4</tspan><tspan dy="-1.47">)</tspan><tspan font-size="6.41" dy="1.47">2</tspan><tspan dy="-1.47"> in MMS</tspan></text>
<text transform="translate(513.9,9.7) scale(1.065,1)" font-size="12.72" font-weight="bold" stroke="#111" stroke-width="0.3">C)</text>
<clipPath id="cD"><rect x="152.6" y="315.5" width="218.6" height="217.1"/></clipPath>
<path d="M152.6 315.5V532.6M196.32 315.5V532.6M240.04 315.5V532.6M283.76 315.5V532.6M327.48 315.5V532.6M371.2 315.5V532.6M152.6 532.6H371.2M152.6 493.38H371.2M152.6 454.17H371.2M152.6 414.95H371.2M152.6 375.74H371.2M152.6 336.52H371.2" stroke="#c4c4c4" stroke-width="0.9" stroke-dasharray="1.6,1.45" fill="none"/>
<g clip-path="url(#cD)" fill="none" stroke="#000">
<path d="M152.6 510.58 L153.69 510.58 L154.79 510.58 L155.88 510.58 L156.97 510.58 L158.06 510.58 L159.16 510.58 L160.25 510.58 L161.34 510.58 L162.44 510.58 L163.53 510.58 L164.62 510.58 L165.72 510.58 L166.81 510.58 L167.9 510.58 L169 510.58 L170.09 510.58 L171.18 510.58 L172.27 510.58 L173.37 510.58 L174.46 510.58 L175.55 510.58 L176.65 510.58 L177.74 510.58 L178.83 510.58 L179.92 510.58 L181.02 510.58 L182.11 510.58 L183.2 510.58 L184.3 510.58 L185.39 510.58 L186.48 510.58 L187.58 510.58 L188.67 510.58 L189.76 510.58 L190.85 510.58 L191.95 510.58 L193.04 510.58 L194.13 510.58 L195.23 510.58 L196.32 510.58 L197.41 510.58 L198.51 510.58 L199.6 510.58 L200.69 510.58 L201.78 510.58 L202.88 510.58 L203.97 510.58 L205.06 510.58 L206.16 510.58 L207.25 510.58 L208.34 510.58 L209.44 510.58 L210.53 510.58 L211.62 510.58 L212.72 510.58 L213.81 510.58 L214.9 510.58 L215.99 510.58 L217.09 510.58 L218.18 510.58 L219.27 510.58 L220.37 510.58 L221.46 510.58 L222.55 510.58 L223.64 510.58 L224.74 510.58 L225.83 510.58 L226.92 510.58 L228.02 510.58 L229.11 510.58 L230.2 510.58 L231.3 510.58 L232.39 510.58 L233.48 510.58 L234.57 510.58 L235.67 510.58 L236.76 510.58 L237.85 510.58 L238.95 510.58 L240.04 510.58 L240.91 510.58 L240.91 510.58 L240.91 486.91 L242.01 486.58 L243.1 486.24 L244.19 485.9 L245.29 485.56 L246.38 485.21 L247.47 484.86 L248.57 484.51 L249.66 484.16 L250.75 483.8 L251.84 483.44 L252.94 483.07 L254.03 482.7 L255.12 482.33 L256.22 481.95 L257.31 481.57 L258.4 481.19 L259.5 480.8 L260.59 480.41 L261.68 480.02 L262.77 479.62 L263.87 479.21 L264.96 478.81 L266.05 478.4 L267.15 477.98 L268.24 477.56 L269.33 477.13 L270.43 476.7 L271.52 476.27 L272.61 475.83 L273.7 475.38 L274.8 474.92 L275.89 474.46 L276.98 474 L278.08 473.52 L279.17 473.04 L280.26 472.55 L281.36 472.05 L282.45 471.54 L283.54 471.01 L284.63 470.48 L285.73 469.94 L286.82 469.38 L287.91 468.82 L289.01 468.23 L290.1 467.64 L291.19 467.02 L292.29 466.4 L293.38 465.75 L294.47 465.09 L295.56 464.41 L296.66 463.71 L297.75 462.99 L298.84 462.25 L299.94 461.49 L301.03 460.7 L302.12 459.89 L303.22 459.06 L304.31 458.21 L305.4 457.33 L306.49 456.42 L307.59 455.49 L308.68 454.52 L309.77 453.53 L310.87 452.51 L311.41 451.99 L311.96 451.46 L312.51 450.92 L313.05 450.37 L313.6 449.82 L314.15 449.25 L314.69 448.68 L315.24 448.1 L315.78 447.51 L316.33 446.91 L316.88 446.3 L317.42 445.68 L317.97 445.05 L318.52 444.41 L319.06 443.76 L319.61 443.09 L320.16 442.42 L320.7 441.74 L321.25 441.04 L321.8 440.33 L322.34 439.61 L322.89 438.88 L323.44 438.13 L323.98 437.37 L324.53 436.59 L325.08 435.81 L325.62 435 L326.17 434.18 L326.71 433.35 L327.26 432.49 L327.81 431.62 L328.35 430.74 L328.9 429.83 L329.45 428.9 L329.99 427.96 L330.54 426.99 L331.09 426.01 L331.63 425 L332.18 423.97 L332.73 422.91 L333.27 421.83 L333.82 420.72 L334.37 419.59 L334.91 418.43 L335.46 417.24 L336.01 416.02 L336.55 414.76 L337.1 413.47 L337.64 412.15 L338.19 410.79 L338.46 410.09 L338.74 409.39 L339.01 408.68 L339.28 407.95 L339.56 407.22 L339.83 406.47 L340.1 405.71 L340.38 404.94 L340.65 404.16 L340.92 403.37 L341.2 402.56 L341.47 401.75 L341.74 400.92 L342.02 400.07 L342.29 399.21 L342.56 398.34 L342.84 397.45 L343.11 396.55 L343.38 395.64 L343.66 394.7 L343.93 393.75 L344.2 392.79 L344.48 391.81 L344.75 390.81 L345.02 389.79 L345.3 388.75 L345.57 387.69 L345.84 386.62 L346.12 385.52 L346.39 384.4 L346.66 383.26 L346.94 382.1 L347.21 380.91 L347.48 379.7 L347.76 378.47 L348.03 377.21 L348.3 375.92 L348.57 374.6 L348.85 373.26 L349.12 371.89 L349.39 370.48 L349.67 369.05 L349.94 367.58 L350.08 366.83 L350.21 366.08 L350.35 365.31 L350.49 364.54 L350.62 363.76 L350.76 362.97 L350.9 362.17 L351.03 361.35 L351.17 360.53 L351.31 359.7 L351.44 358.86 L351.58 358.01 L351.72 357.14 L351.85 356.27 L351.99 355.39 L352.13 354.49 L352.26 353.58 L352.4 352.66 L352.54 351.73 L352.67 350.78 L352.81 349.83 L352.95 348.86 L353.08 347.87 L353.22 346.87 L353.36 345.86 L353.49 344.84 L353.63 343.8 L353.77 342.74 L353.9 341.67 L354.04 340.59 L354.18 339.49 L354.31 338.37 L354.45 337.24 L354.59 336.09 L354.72 334.92 L354.86 333.73 L355 332.53 L355.13 331.3 L355.27 330.06 L355.41 328.8 L355.54 327.51 L355.68 326.21 L355.82 324.89 L355.95 323.54 L356.09 322.17 L356.23 320.78 L356.36 319.36 L356.5 317.92 L356.64 316.46 L356.77 314.97 L356.84 314.21 L356.91 313.45 L356.98 312.68 L357.05 311.91 L357.11 311.13 L357.18 310.34 L357.25 309.54 L357.32 308.74 L357.39 307.92 L357.46 307.11 L357.52 306.28 L357.59 305.45 L357.66 304.6 L357.73 303.75 L357.8 302.9 L357.87 302.03 L357.93 301.16 L358 300.27 L358.07 299.38 L358.14 298.48 L358.21 297.57 L358.28 296.65 L358.34 295.73 L358.41 294.79 L358.48 293.85 L358.55 292.89 L358.62 291.93 L358.69 290.95 L358.75 289.97 L358.82 288.97 L358.89 287.97 L358.96 286.95 L359.03 285.92 L359.1 284.89 L359.16 283.84 L359.23 282.78" stroke-width="1.4" stroke-dasharray="3.9,1.8"/>
<path d="M152.6 532.6 L153.69 532 L154.79 531.42 L155.88 530.87 L156.97 530.33 L158.06 529.77 L159.16 529.23 L160.25 528.71 L161.34 528.21 L162.44 527.69 L163.53 527.19 L164.62 526.71 L165.72 526.25 L166.81 525.81 L167.9 525.38 L169 524.95 L170.09 524.52 L171.18 524.12 L172.27 523.74 L173.37 523.38 L174.46 523.03 L175.55 522.68 L176.65 522.34 L177.74 522 L178.83 521.7 L179.92 521.42 L181.02 521.16 L182.11 520.91 L183.2 520.68 L184.3 520.45 L185.39 520.23 L186.48 520.02 L187.58 519.82 L188.67 519.63 L189.76 519.45 L190.85 519.27 L191.95 519.11 L193.04 518.96 L194.13 518.81 L195.23 518.67 L196.32 518.52 L197.41 518.37 L198.51 518.2 L199.6 518.04 L200.69 517.88 L201.78 517.72 L202.88 517.56 L203.97 517.41 L205.06 517.26 L206.16 517.11 L207.25 516.96 L208.34 516.81 L209.44 516.66 L210.53 516.52 L211.62 516.37 L212.72 516.23 L213.81 516.08 L214.9 515.94 L215.99 515.8 L217.09 515.66 L218.18 515.52 L219.27 515.37 L220.37 515.23 L221.46 515.09 L222.55 514.95 L223.64 514.82 L224.74 514.68 L225.83 514.54 L226.92 514.4 L228.02 514.26 L229.11 514.12 L230.2 513.98 L231.3 513.84 L232.39 513.7 L233.48 513.56 L234.57 513.42 L235.67 513.28 L236.76 513.14 L237.85 513 L238.95 512.86 L240.04 512.72 L241.13 512.58 L242.23 512.44 L243.32 512.29 L244.41 512.15 L245.5 512.01 L246.6 511.86 L247.69 511.72 L248.78 511.57 L249.88 511.42 L250.97 511.28 L252.06 511.13 L253.16 510.98 L254.25 510.83 L255.34 510.68 L256.44 510.53 L257.53 510.38 L258.62 510.22 L259.71 510.07 L260.81 509.91 L261.9 509.76 L262.99 509.6 L264.09 509.44 L265.18 509.28 L266.27 509.12 L267.37 508.96 L268.46 508.8 L269.55 508.63 L270.64 508.47 L271.74 508.3 L272.83 508.13 L273.92 507.96 L275.02 507.79 L276.11 507.62 L277.2 507.44 L278.29 507.27 L279.39 507.09 L280.48 506.91 L281.57 506.73 L282.67 506.54 L283.76 506.36 L284.85 506.17 L285.95 505.99 L287.04 505.8 L288.13 505.6 L289.23 505.41 L290.32 505.21 L291.41 505.02 L292.5 504.82 L293.6 504.61 L294.69 504.41 L295.78 504.2 L296.88 503.99 L297.97 503.78 L299.06 503.57 L300.15 503.35 L301.25 503.13 L302.34 502.9 L303.43 502.67 L304.53 502.45 L305.62 502.23 L306.71 502.03 L307.81 501.84 L308.9 501.64 L309.99 501.44 L311.09 501.23 L312.18 501 L313.27 500.78 L314.36 500.54 L315.46 500.31 L316.55 500.08 L317.64 499.86 L318.74 499.64 L319.83 499.42 L320.92 499.19 L322.01 498.96 L323.11 498.72 L324.2 498.46 L325.29 498.19 L326.39 497.91 L327.48 497.62 L328.57 497.31 L329.67 496.99 L330.76 496.65 L331.85 496.32 L332.94 495.99 L334.04 495.67 L335.13 495.36 L336.22 495.04 L337.32 494.7 L338.41 494.33 L339.5 493.92 L340.6 493.49 L341.69 493.03 L342.78 492.53 L343.88 491.98 L344.97 491.37 L346.06 490.7 L347.15 490 L348.25 489.26 L349.34 488.44 L350.43 487.48 L350.98 486.92 L351.53 486.31 L352.07 485.64 L352.62 484.93 L353.17 484 L353.71 482.79 L353.99 482.11 L354.26 481.36 L354.53 480.54 L354.81 479.66 L355.08 478.7 L355.35 477.66 L355.62 476.51 L355.9 475.23 L356.17 473.86 L356.44 472.39 L356.58 471.6 L356.72 470.77 L356.85 469.91 L356.99 469.01 L357.13 468.08 L357.26 467.11 L357.4 466.08 L357.54 465 L357.67 463.88 L357.81 462.74 L357.95 461.59 L358.08 460.44 L358.22 459.3 L358.36 458.13 L358.49 456.96 L358.63 455.78 L358.77 454.59 L358.9 453.4 L359.04 452.21 L359.18 451.03 L359.31 449.86 L359.45 448.7 L359.59 447.53 L359.72 446.37 L359.86 445.2 L360 444.02 L360.13 442.83 L360.27 441.62 L360.41 440.38 L360.54 439.13 L360.68 437.85 L360.82 436.57 L360.95 435.28 L361.09 433.99 L361.23 432.7 L361.36 431.42 L361.5 430.15 L361.64 428.89 L361.77 427.63 L361.91 426.37 L362.05 425.11 L362.18 423.83 L362.32 422.54 L362.46 421.23 L362.59 419.9 L362.73 418.56 L362.87 417.2 L363 415.83 L363.14 414.45 L363.28 413.06 L363.41 411.66 L363.55 410.25 L363.69 408.82 L363.82 407.4 L363.96 405.96 L364.1 404.51 L364.23 403.04 L364.37 401.54 L364.44 400.79 L364.51 400.03 L364.57 399.26 L364.64 398.48 L364.71 397.7 L364.78 396.91 L364.85 396.12 L364.92 395.33 L364.98 394.53 L365.05 393.73 L365.12 392.91 L365.19 392.09 L365.26 391.27 L365.33 390.43 L365.39 389.58 L365.46 388.72 L365.53 387.85 L365.6 386.96 L365.67 386.06 L365.74 385.15 L365.8 384.22 L365.87 383.28 L365.94 382.32 L366.01 381.36 L366.08 380.37 L366.14 379.38 L366.21 378.37 L366.28 377.35 L366.35 376.31 L366.42 375.26 L366.49 374.2 L366.55 373.12 L366.62 372.03 L366.69 370.93 L366.76 369.81 L366.83 368.68 L366.9 367.53 L366.96 366.36 L367.03 365.16 L367.1 363.95 L367.17 362.72 L367.24 361.48 L367.31 360.21 L367.37 358.93 L367.44 357.64 L367.51 356.34 L367.58 355.02 L367.65 353.69 L367.72 352.35 L367.78 351 L367.85 349.65 L367.92 348.28 L367.99 346.91 L368.06 345.5 L368.13 344.08 L368.19 342.64 L368.26 341.18 L368.33 339.71 L368.4 338.22 L368.47 336.73 L368.5 335.98 L368.54 335.23 L368.57 334.48 L368.6 333.73 L368.64 332.97 L368.67 332.22 L368.71 331.47 L368.74 330.72 L368.77 329.96 L368.81 329.21 L368.84 328.47 L368.88 327.72 L368.91 326.97 L368.95 326.23 L368.98 325.49 L369.01 324.75 L369.05 324.02 L369.08 323.29 L369.12 322.56 L369.15 321.84 L369.18 321.12 L369.22 320.39 L369.25 319.68 L369.29 318.96 L369.32 318.24 L369.36 317.52 L369.39 316.81 L369.42 316.09 L369.46 315.37 L369.49 314.66 L369.53 313.94 L369.56 313.22 L369.59 312.49 L369.63 311.77 L369.66 311.04 L369.7 310.31 L369.73 309.58 L369.77 308.85 L369.8 308.11 L369.83 307.36 L369.87 306.61 L369.9 305.86 L369.94 305.1 L369.97 304.34 L370 303.57 L370.04 302.8 L370.07 302.01 L370.11 301.23 L370.14 300.43 L370.18 299.63 L370.21 298.83 L370.24 298.02 L370.28 297.21 L370.31 296.4 L370.35 295.58 L370.38 294.75 L370.41 293.92 L370.45 293.09 L370.48 292.25 L370.52 291.41 L370.55 290.57 L370.59 289.72 L370.62 288.87 L370.65 288.01 L370.69 287.15 L370.72 286.28 L370.76 285.41 L370.79 284.54 L370.82 283.66 L370.86 282.78" stroke-width="1.3" stroke-dasharray="1.2,1.8"/>
<path d="M152.6 510.58 L153.69 509.98 L154.79 509.41 L155.88 508.85 L156.97 508.31 L158.06 507.75 L159.16 507.21 L160.25 506.7 L161.34 506.19 L162.44 505.68 L163.53 505.17 L164.62 504.69 L165.72 504.23 L166.81 503.79 L167.9 503.37 L169 502.93 L170.09 502.5 L171.18 502.1 L172.27 501.72 L173.37 501.36 L174.46 501.01 L175.55 500.67 L176.65 500.32 L177.74 499.99 L178.83 499.68 L179.92 499.4 L181.02 499.14 L182.11 498.9 L183.2 498.66 L184.3 498.43 L185.39 498.21 L186.48 498 L187.58 497.8 L188.67 497.61 L189.76 497.43 L190.85 497.26 L191.95 497.09 L193.04 496.94 L194.13 496.79 L195.23 496.65 L196.32 496.5 L197.41 496.35 L198.51 496.19 L199.6 496.02 L200.69 495.86 L201.78 495.7 L202.88 495.55 L203.97 495.39 L205.06 495.24 L206.16 495.09 L207.25 494.94 L208.34 494.79 L209.44 494.64 L210.53 494.5 L211.62 494.35 L212.72 494.21 L213.81 494.07 L214.9 493.92 L215.99 493.78 L217.09 493.64 L218.18 493.5 L219.27 493.36 L220.37 493.22 L221.46 493.08 L222.55 492.94 L223.64 492.8 L224.74 492.66 L225.83 492.52 L226.92 492.38 L228.02 492.24 L229.11 492.1 L230.2 491.96 L231.3 491.82 L232.39 491.68 L233.48 491.55 L234.57 491.41 L235.67 491.27 L236.76 491.13 L237.85 490.98 L238.95 490.84 L240.04 490.7 L240.91 490.59 L240.91 490.59 L240.91 466.92 L242.01 466.44 L243.1 465.96 L244.19 465.48 L245.29 464.99 L246.38 464.5 L247.47 464.01 L248.57 463.51 L249.66 463.01 L250.75 462.5 L251.84 461.99 L252.94 461.48 L254.03 460.96 L255.12 460.44 L256.22 459.91 L257.31 459.38 L258.4 458.84 L259.5 458.3 L260.59 457.76 L261.68 457.21 L262.77 456.65 L263.87 456.09 L264.96 455.52 L266.05 454.95 L267.15 454.37 L268.24 453.79 L269.33 453.2 L270.43 452.6 L271.52 452 L272.61 451.39 L273.7 450.77 L274.8 450.15 L275.89 449.51 L276.98 448.87 L278.08 448.22 L279.17 447.56 L280.26 446.89 L281.36 446.21 L282.45 445.52 L283.54 444.81 L284.63 444.09 L285.73 443.36 L286.82 442.62 L287.91 441.86 L289.01 441.08 L290.1 440.29 L291.19 439.48 L292.29 438.65 L293.38 437.8 L294.47 436.94 L295.56 436.05 L296.66 435.14 L297.75 434.21 L298.84 433.26 L299.94 432.28 L301.03 431.28 L301.58 430.76 L302.12 430.24 L302.67 429.71 L303.22 429.18 L303.76 428.64 L304.31 428.1 L304.85 427.55 L305.4 427 L305.95 426.45 L306.49 425.89 L307.04 425.33 L307.59 424.76 L308.13 424.19 L308.68 423.61 L309.23 423.02 L309.77 422.42 L310.32 421.8 L310.87 421.18 L311.41 420.55 L311.96 419.91 L312.51 419.25 L313.05 418.59 L313.6 417.92 L314.15 417.24 L314.69 416.56 L315.24 415.86 L315.78 415.15 L316.33 414.44 L316.88 413.71 L317.42 412.98 L317.97 412.24 L318.52 411.49 L319.06 410.73 L319.61 409.96 L320.16 409.17 L320.7 408.38 L321.25 407.57 L321.8 406.74 L322.34 405.9 L322.89 405.04 L323.44 404.17 L323.98 403.28 L324.53 402.38 L325.08 401.45 L325.62 400.51 L326.17 399.55 L326.71 398.57 L327.26 397.57 L327.81 396.55 L328.35 395.51 L328.9 394.44 L329.45 393.36 L329.99 392.25 L330.54 391.11 L331.09 389.96 L331.63 388.78 L332.18 387.58 L332.73 386.36 L333.27 385.12 L333.82 383.86 L334.37 382.57 L334.91 381.25 L335.46 379.9 L336.01 378.52 L336.28 377.82 L336.55 377.1 L336.83 376.38 L337.1 375.65 L337.37 374.9 L337.64 374.14 L337.92 373.37 L338.19 372.59 L338.46 371.8 L338.74 371 L339.01 370.19 L339.28 369.36 L339.56 368.52 L339.83 367.67 L340.1 366.8 L340.38 365.92 L340.65 365.03 L340.92 364.12 L341.2 363.2 L341.47 362.27 L341.74 361.32 L342.02 360.35 L342.29 359.37 L342.56 358.37 L342.84 357.35 L343.11 356.32 L343.38 355.27 L343.66 354.2 L343.93 353.11 L344.2 352 L344.48 350.86 L344.75 349.71 L345.02 348.53 L345.3 347.33 L345.57 346.1 L345.84 344.86 L346.12 343.59 L346.39 342.3 L346.66 340.98 L346.94 339.64 L347.21 338.28 L347.48 336.88 L347.76 335.47 L348.03 334.02 L348.17 333.29 L348.3 332.54 L348.44 331.79 L348.57 331.03 L348.71 330.26 L348.85 329.49 L348.98 328.7 L349.12 327.9 L349.26 327.1 L349.39 326.28 L349.53 325.46 L349.67 324.62 L349.8 323.78 L349.94 322.92 L350.08 322.05 L350.21 321.17 L350.35 320.27 L350.49 319.37 L350.62 318.45 L350.76 317.52 L350.9 316.58 L351.03 315.62 L351.17 314.65 L351.31 313.66 L351.44 312.66 L351.58 311.65 L351.72 310.62 L351.85 309.58 L351.99 308.53 L352.13 307.46 L352.26 306.39 L352.4 305.29 L352.54 304.18 L352.67 303.04 L352.81 301.87 L352.95 300.67 L353.08 299.43 L353.22 298.17 L353.36 296.87 L353.49 295.54 L353.63 294.19 L353.77 292.8 L353.9 291.39 L354.04 289.95 L354.18 288.48 L354.24 287.73 L354.31 286.97 L354.38 286.21 L354.45 285.43 L354.52 284.65 L354.59 283.86 L354.65 283.06 L354.72 282.25" stroke-width="1.7" stroke-linejoin="round"/>
</g>
<g fill="#000" clip-path="url(#cD)"><circle cx="174.68" cy="522.95" r="2.7"/><circle cx="198.07" cy="518.17" r="2.7"/><circle cx="218.18" cy="515.42" r="2.7"/><circle cx="236.54" cy="513.31" r="2.7"/><circle cx="257.31" cy="510.33" r="2.7"/><circle cx="301.25" cy="503.11" r="2.7"/><circle cx="323.11" cy="498.72" r="2.7"/><circle cx="347.37" cy="489.78" r="2.7"/><circle cx="356.77" cy="472.21" r="2.7"/></g>
<g fill="#f03030" stroke="#000" stroke-width="0.6" clip-path="url(#cD)"><circle cx="159.6" cy="510.72" r="2.3"/><circle cx="161.78" cy="509.46" r="2.3"/><circle cx="164.62" cy="508.36" r="2.3"/><circle cx="167.46" cy="507.58" r="2.3"/><circle cx="169.65" cy="505.78" r="2.3"/><circle cx="172.49" cy="505.54" r="2.3"/><circle cx="178.83" cy="503.19" r="2.3"/><circle cx="182.33" cy="503.66" r="2.3"/><circle cx="185.17" cy="501.54" r="2.3"/><circle cx="192.82" cy="499.58" r="2.3"/><circle cx="210.75" cy="495.66" r="2.3"/><circle cx="235.23" cy="485.31" r="2.3"/><circle cx="253.59" cy="476.68" r="2.3"/><circle cx="271.3" cy="466.87" r="2.3"/><circle cx="288.79" cy="457.78" r="2.3"/><circle cx="307.37" cy="442.09" r="2.3"/><circle cx="321.36" cy="427.5" r="2.3"/><circle cx="338.41" cy="396.76" r="2.3"/><circle cx="355.02" cy="331.03" r="2.3"/></g>
<rect x="156.2" y="319" width="155.4" height="44.8" rx="2" fill="#fff" fill-opacity="0.8" stroke="#d4d4d4" stroke-width="0.8"/>
<path d="M158.5 324.8H173.8" stroke="#000" stroke-width="1.4" stroke-dasharray="3.9,1.8"/>
<path d="M158.5 335.5H173.8" stroke="#000" stroke-width="1.3" stroke-dasharray="1.2,1.8"/>
<circle cx="166.15" cy="335.5" r="2.7"/>
<path d="M158.5 346.1H173.8" stroke="#000" stroke-width="1.7"/>
<circle cx="166.15" cy="356.9" r="2.3" fill="#f03030" stroke="#000" stroke-width="0.6"/>
<text transform="translate(179.6,327.35) scale(1.078,1)" font-size="7.63">Brine only (model)</text>
<text transform="translate(179.6,338.05) scale(1.080,1)" font-size="7.63">Regolith only (experiment)</text>
<text transform="translate(179.6,348.65) scale(1.090,1)" font-size="7.63">Ideal brine-regolith mixture (model)</text>
<text transform="translate(179.6,359.45) scale(1.092,1)" font-size="7.63">Experimental brine-regolith mixture</text>
<rect x="152.6" y="315.5" width="218.6" height="217.1" fill="none" stroke="#6a6a6a" stroke-width="1.1"/>
<path d="M152.6 532.6v2.5M196.32 532.6v2.5M240.04 532.6v2.5M283.76 532.6v2.5M327.48 532.6v2.5M371.2 532.6v2.5M152.6 315.5v-2.5M196.32 315.5v-2.5M240.04 315.5v-2.5M283.76 315.5v-2.5M327.48 315.5v-2.5M371.2 315.5v-2.5M152.6 532.6h-2.5M152.6 493.38h-2.5M152.6 454.17h-2.5M152.6 414.95h-2.5M152.6 375.74h-2.5M152.6 336.52h-2.5" stroke="#333" stroke-width="0.9"/>
<text transform="translate(152.6,543) scale(1.079,1)" font-size="7.63" text-anchor="middle">0</text>
<text transform="translate(196.32,543) scale(1.079,1)" font-size="7.63" text-anchor="middle">20</text>
<text transform="translate(240.04,543) scale(1.079,1)" font-size="7.63" text-anchor="middle">40</text>
<text transform="translate(283.76,543) scale(1.079,1)" font-size="7.63" text-anchor="middle">60</text>
<text transform="translate(327.48,543) scale(1.079,1)" font-size="7.63" text-anchor="middle">80</text>
<text transform="translate(371.2,543) scale(1.079,1)" font-size="7.63" text-anchor="middle">100</text>
<text transform="translate(152.6,309.1) scale(1.079,1)" font-size="7.63" text-anchor="middle">0.0</text>
<text transform="translate(196.32,309.1) scale(1.079,1)" font-size="7.63" text-anchor="middle">0.2</text>
<text transform="translate(240.04,309.1) scale(1.079,1)" font-size="7.63" text-anchor="middle">0.4</text>
<text transform="translate(283.76,309.1) scale(1.079,1)" font-size="7.63" text-anchor="middle">0.6</text>
<text transform="translate(327.48,309.1) scale(1.079,1)" font-size="7.63" text-anchor="middle">0.8</text>
<text transform="translate(371.2,309.1) scale(1.079,1)" font-size="7.63" text-anchor="middle">1.0</text>
<text transform="translate(147.8,535.3) scale(1.079,1)" font-size="7.63" text-anchor="end">0</text>
<text transform="translate(147.8,496.08) scale(1.079,1)" font-size="7.63" text-anchor="end">5</text>
<text transform="translate(147.8,456.87) scale(1.079,1)" font-size="7.63" text-anchor="end">10</text>
<text transform="translate(147.8,417.65) scale(1.079,1)" font-size="7.63" text-anchor="end">15</text>
<text transform="translate(147.8,378.44) scale(1.079,1)" font-size="7.63" text-anchor="end">20</text>
<text transform="translate(147.8,339.22) scale(1.079,1)" font-size="7.63" text-anchor="end">25</text>
<text transform="translate(261.9,553) scale(1.080,1)" font-size="7.63" text-anchor="middle">Relative humidity (%)</text>
<text transform="translate(261.9,300.3) scale(1.119,1)" font-size="7.63" text-anchor="middle">water activity</text>
<text transform="translate(261.9,290.9) scale(1.036,1)" font-size="9.16" text-anchor="middle"><tspan>5.8 wt.% Mg(ClO</tspan><tspan font-size="6.41" dy="1.47">4</tspan><tspan dy="-1.47">)</tspan><tspan font-size="6.41" dy="1.47">2</tspan><tspan dy="-1.47"> in MMS</tspan></text>
<text transform="translate(131.5,291.2) scale(1.151,1)" font-size="12.72" font-weight="bold" stroke="#111" stroke-width="0.3">D)</text>
<text transform="translate(133.8,423.15) rotate(-90) scale(1.080,1)" font-size="7.63" text-anchor="middle"><tspan>wt.% water in regolith (g</tspan><tspan font-size="5.34" dy="1.22">w</tspan><tspan dy="-1.22"> / g</tspan><tspan font-size="5.34" dy="1.22">MMS</tspan><tspan dy="-1.22"> * 100)</tspan></text>
<clipPath id="cE"><rect x="407.4" y="315.5" width="218.7" height="217.1"/></clipPath>
<path d="M407.4 315.5V532.6M436.56 315.5V532.6M465.72 315.5V532.6M494.88 315.5V532.6M524.04 315.5V532.6M553.2 315.5V532.6M582.36 315.5V532.6M611.52 315.5V532.6M407.4 532.6H626.1M407.4 489.18H626.1M407.4 445.76H626.1M407.4 402.34H626.1M407.4 358.92H626.1M407.4 315.5H626.1" stroke="#c4c4c4" stroke-width="0.9" stroke-dasharray="1.6,1.45" fill="none"/>
<g clip-path="url(#cE)" fill="none" stroke="#000">
<path d="M407.4 473.86 L408.86 473.86 L410.32 473.86 L411.77 473.86 L413.23 473.86 L414.69 473.86 L416.15 473.86 L417.61 473.86 L419.06 473.86 L420.52 473.86 L421.98 473.86 L423.44 473.86 L424.9 473.86 L426.35 473.86 L427.81 473.86 L429.27 473.86 L430.73 473.86 L432.19 473.86 L433.64 473.86 L435.1 473.86 L436.56 473.86 L438.02 473.86 L439.48 473.86 L440.93 473.86 L442.39 473.86 L443.85 473.86 L445.31 473.86 L446.77 473.86 L448.22 473.86 L449.68 473.86 L451.14 473.86 L452.6 473.86 L454.06 473.86 L455.51 473.86 L456.97 473.86 L458.43 473.86 L459.89 473.86 L461.35 473.86 L462.8 473.86 L464.26 473.86 L465.72 473.86 L467.18 473.86 L468.64 473.86 L470.09 473.86 L471.55 473.86 L473.01 473.86 L474.47 473.86 L475.93 473.86 L477.38 473.86 L478.84 473.86 L480.3 473.86 L481.76 473.86 L483.22 473.86 L484.67 473.86 L486.13 473.86 L487.59 473.86 L489.05 473.86 L490.51 473.86 L491.96 473.86 L493.42 473.86 L494.88 473.86 L496.34 473.86 L497.8 473.86 L499.25 473.86 L500.71 473.86 L502.17 473.86 L503.63 473.86 L505.09 473.86 L506.54 473.86 L508 473.86 L509.46 473.86 L510.92 473.86 L512.38 473.86 L513.83 473.86 L515.29 473.86 L516.75 473.86 L518.21 473.86 L519.67 473.86 L521.12 473.86 L522.58 473.86 L524.04 473.86 L525.2 473.86 L525.21 473.86 L525.21 410.71 L525.94 410.27 L526.66 409.82 L527.39 409.37 L528.12 408.92 L528.85 408.47 L529.58 408.02 L530.31 407.56 L531.04 407.1 L531.77 406.64 L532.5 406.18 L533.23 405.72 L533.95 405.25 L534.68 404.78 L535.41 404.31 L536.14 403.84 L536.87 403.36 L537.6 402.89 L538.33 402.41 L539.06 401.93 L539.79 401.44 L540.52 400.96 L541.24 400.47 L541.97 399.98 L542.7 399.48 L543.43 398.99 L544.16 398.49 L544.89 397.99 L545.62 397.48 L546.35 396.98 L547.08 396.47 L547.81 395.96 L548.53 395.45 L549.26 394.93 L549.99 394.42 L550.72 393.9 L551.45 393.37 L552.18 392.85 L552.91 392.32 L553.64 391.79 L554.37 391.26 L555.1 390.72 L555.82 390.18 L556.55 389.64 L557.28 389.09 L558.01 388.55 L558.74 388 L559.47 387.44 L560.2 386.89 L560.93 386.33 L561.66 385.76 L562.39 385.2 L563.11 384.63 L563.84 384.06 L564.57 383.48 L565.3 382.9 L566.03 382.32 L566.76 381.73 L567.49 381.14 L568.22 380.55 L568.95 379.95 L569.68 379.34 L570.4 378.74 L571.13 378.12 L571.86 377.51 L572.59 376.89 L573.32 376.26 L574.05 375.63 L574.78 374.99 L575.51 374.35 L576.24 373.7 L576.97 373.05 L577.69 372.39 L578.42 371.73 L579.15 371.06 L579.88 370.38 L580.61 369.69 L581.34 369 L582.07 368.3 L582.8 367.6 L583.53 366.89 L584.26 366.17 L584.98 365.44 L585.71 364.7 L586.44 363.95 L587.17 363.2 L587.9 362.44 L588.63 361.66 L589.36 360.88 L590.09 360.09 L590.82 359.29 L591.55 358.48 L592.27 357.66 L593 356.83 L593.73 355.98 L594.46 355.13 L595.19 354.26 L595.92 353.38 L596.65 352.49 L597.38 351.59 L598.11 350.68 L598.84 349.75 L599.56 348.81 L600.29 347.86 L601.02 346.89 L601.75 345.91 L602.48 344.92 L603.21 343.91 L603.94 342.88 L604.67 341.84 L605.4 340.79 L606.13 339.72 L606.85 338.64 L607.58 337.54 L608.31 336.42 L609.04 335.29 L609.77 334.14 L610.5 332.97 L611.23 331.79 L611.96 330.59 L612.69 329.37 L613.42 328.13 L614.14 326.88 L614.87 325.6 L615.6 324.31 L615.97 323.66 L616.33 323 L616.7 322.33 L617.06 321.67 L617.42 320.99 L617.79 320.31 L618.15 319.63 L618.52 318.94 L618.88 318.25 L619.25 317.55 L619.61 316.84 L619.98 316.13 L620.34 315.42 L620.71 314.69 L621.07 313.97 L621.43 313.24 L621.8 312.5 L622.16 311.75 L622.53 311 L622.89 310.25 L623.26 309.49 L623.62 308.72 L623.99 307.95 L624.35 307.17 L624.71 306.38 L625.08 305.59 L625.44 304.8 L625.81 303.99 L626.1 303.34" stroke-width="1.4" stroke-dasharray="3.9,1.8"/>
<path d="M407.4 532.6 L408.86 532.43 L410.32 532.27 L411.77 532.12 L413.23 531.97 L414.69 531.82 L416.15 531.67 L417.61 531.52 L419.06 531.38 L420.52 531.24 L421.98 531.1 L423.44 530.97 L424.9 530.84 L426.35 530.72 L427.81 530.6 L429.27 530.48 L430.73 530.36 L432.19 530.25 L433.64 530.15 L435.1 530.05 L436.56 529.95 L438.02 529.86 L439.48 529.76 L440.93 529.67 L442.39 529.58 L443.85 529.51 L445.31 529.43 L446.77 529.37 L448.22 529.3 L449.68 529.24 L451.14 529.18 L452.6 529.12 L454.06 529.06 L455.51 529.01 L456.97 528.96 L458.43 528.91 L459.89 528.87 L461.35 528.82 L462.8 528.78 L464.26 528.74 L465.72 528.7 L467.18 528.66 L468.64 528.62 L470.09 528.57 L471.55 528.52 L473.01 528.48 L474.47 528.44 L475.93 528.4 L477.38 528.35 L478.84 528.31 L480.3 528.27 L481.76 528.23 L483.22 528.19 L484.67 528.15 L486.13 528.11 L487.59 528.07 L489.05 528.03 L490.51 527.99 L491.96 527.95 L493.42 527.91 L494.88 527.87 L496.34 527.83 L497.8 527.79 L499.25 527.75 L500.71 527.72 L502.17 527.68 L503.63 527.64 L505.09 527.6 L506.54 527.56 L508 527.52 L509.46 527.48 L510.92 527.45 L512.38 527.41 L513.83 527.37 L515.29 527.33 L516.75 527.29 L518.21 527.25 L519.67 527.21 L521.12 527.18 L522.58 527.14 L524.04 527.1 L525.5 527.06 L526.96 527.02 L528.41 526.98 L529.87 526.94 L531.33 526.9 L532.79 526.86 L534.25 526.82 L535.7 526.78 L537.16 526.74 L538.62 526.7 L540.08 526.66 L541.54 526.62 L542.99 526.57 L544.45 526.53 L545.91 526.49 L547.37 526.45 L548.83 526.41 L550.28 526.36 L551.74 526.32 L553.2 526.28 L554.66 526.23 L556.12 526.19 L557.57 526.15 L559.03 526.1 L560.49 526.06 L561.95 526.01 L563.41 525.97 L564.86 525.92 L566.32 525.87 L567.78 525.83 L569.24 525.78 L570.7 525.73 L572.15 525.68 L573.61 525.64 L575.07 525.59 L576.53 525.54 L577.99 525.49 L579.44 525.44 L580.9 525.39 L582.36 525.34 L583.82 525.29 L585.28 525.23 L586.73 525.18 L588.19 525.13 L589.65 525.07 L591.11 525.02 L592.57 524.96 L594.02 524.91 L595.48 524.85 L596.94 524.8 L598.4 524.74 L599.86 524.68 L601.31 524.62 L602.77 524.56 L604.23 524.5 L605.69 524.44 L607.15 524.38 L608.6 524.32 L610.06 524.25 L611.52 524.19 L612.98 524.14 L614.44 524.08 L615.89 524.03 L617.35 523.98 L618.81 523.92 L620.27 523.85 L621.73 523.79 L623.18 523.73 L624.64 523.66 L626.1 523.6" stroke-width="1.3" stroke-dasharray="1.2,1.8"/>
<path d="M407.4 473.86 L408.86 473.7 L410.32 473.54 L411.77 473.38 L413.23 473.23 L414.69 473.08 L416.15 472.93 L417.61 472.79 L419.06 472.65 L420.52 472.5 L421.98 472.36 L423.44 472.23 L424.9 472.1 L426.35 471.98 L427.81 471.86 L429.27 471.74 L430.73 471.63 L432.19 471.51 L433.64 471.41 L435.1 471.31 L436.56 471.21 L438.02 471.12 L439.48 471.02 L440.93 470.93 L442.39 470.84 L443.85 470.77 L445.31 470.7 L446.77 470.63 L448.22 470.56 L449.68 470.5 L451.14 470.44 L452.6 470.38 L454.06 470.32 L455.51 470.27 L456.97 470.22 L458.43 470.17 L459.89 470.13 L461.35 470.09 L462.8 470.05 L464.26 470.01 L465.72 469.97 L467.18 469.92 L468.64 469.88 L470.09 469.83 L471.55 469.79 L473.01 469.74 L474.47 469.7 L475.93 469.66 L477.38 469.62 L478.84 469.57 L480.3 469.53 L481.76 469.49 L483.22 469.45 L484.67 469.41 L486.13 469.37 L487.59 469.33 L489.05 469.29 L490.51 469.25 L491.96 469.21 L493.42 469.17 L494.88 469.13 L496.34 469.09 L497.8 469.06 L499.25 469.02 L500.71 468.98 L502.17 468.94 L503.63 468.9 L505.09 468.86 L506.54 468.82 L508 468.79 L509.46 468.75 L510.92 468.71 L512.38 468.67 L513.83 468.63 L515.29 468.59 L516.75 468.55 L518.21 468.52 L519.67 468.48 L521.12 468.44 L522.58 468.4 L524.04 468.36 L525.2 468.33 L525.21 468.33 L525.21 405.18 L525.94 404.71 L526.66 404.25 L527.39 403.78 L528.12 403.31 L528.85 402.84 L529.58 402.37 L530.31 401.89 L531.04 401.41 L531.77 400.93 L532.5 400.45 L533.23 399.97 L533.95 399.48 L534.68 398.99 L535.41 398.5 L536.14 398.01 L536.87 397.51 L537.6 397.01 L538.33 396.51 L539.06 396.01 L539.79 395.51 L540.52 395 L541.24 394.49 L541.97 393.98 L542.7 393.46 L543.43 392.95 L544.16 392.43 L544.89 391.91 L545.62 391.38 L546.35 390.86 L547.08 390.33 L547.81 389.8 L548.53 389.26 L549.26 388.73 L549.99 388.19 L550.72 387.65 L551.45 387.1 L552.18 386.56 L552.91 386.01 L553.64 385.45 L554.37 384.9 L555.1 384.34 L555.82 383.78 L556.55 383.22 L557.28 382.65 L558.01 382.08 L558.74 381.51 L559.47 380.93 L560.2 380.35 L560.93 379.77 L561.66 379.19 L562.39 378.6 L563.11 378 L563.84 377.41 L564.57 376.81 L565.3 376.21 L566.03 375.6 L566.76 374.99 L567.49 374.38 L568.22 373.76 L568.95 373.14 L569.68 372.51 L570.4 371.88 L571.13 371.24 L571.86 370.6 L572.59 369.96 L573.32 369.31 L574.05 368.65 L574.78 367.99 L575.51 367.32 L576.24 366.65 L576.97 365.97 L577.69 365.29 L578.42 364.6 L579.15 363.9 L579.88 363.2 L580.61 362.49 L581.34 361.78 L582.07 361.05 L582.8 360.32 L583.53 359.58 L584.26 358.84 L584.98 358.08 L585.71 357.32 L586.44 356.55 L587.17 355.76 L587.9 354.98 L588.63 354.18 L589.36 353.37 L590.09 352.55 L590.82 351.72 L591.55 350.88 L592.27 350.03 L593 349.17 L593.73 348.3 L594.46 347.42 L595.19 346.53 L595.92 345.62 L596.65 344.7 L597.38 343.77 L598.11 342.83 L598.84 341.87 L599.56 340.9 L600.29 339.92 L601.02 338.93 L601.75 337.92 L602.48 336.89 L603.21 335.85 L603.94 334.8 L604.67 333.73 L605.4 332.65 L606.13 331.55 L606.85 330.43 L607.58 329.3 L608.31 328.15 L609.04 326.99 L609.77 325.81 L610.5 324.61 L611.23 323.4 L611.96 322.17 L612.69 320.92 L613.42 319.66 L614.14 318.37 L614.87 317.07 L615.24 316.42 L615.6 315.75 L615.97 315.09 L616.33 314.41 L616.7 313.74 L617.06 313.05 L617.42 312.36 L617.79 311.67 L618.15 310.97 L618.52 310.27 L618.88 309.56 L619.25 308.84 L619.61 308.12 L619.98 307.4 L620.34 306.67 L620.71 305.93 L621.07 305.19 L621.43 304.44 L621.8 303.69 L622.16 302.93 L622.53 302.16 L622.89 301.39 L623.26 300.61 L623.62 299.83 L623.99 299.04 L624.35 298.25 L624.71 297.44 L625.08 296.64 L625.44 295.82 L625.81 295 L626.1 294.34" stroke-width="1.7" stroke-linejoin="round"/>
</g>
<g fill="#000" clip-path="url(#cE)"><circle cx="436.85" cy="529.93" r="2.7"/><circle cx="468.05" cy="528.61" r="2.7"/><circle cx="494.88" cy="527.85" r="2.7"/><circle cx="519.37" cy="527.26" r="2.7"/><circle cx="547.08" cy="526.43" r="2.7"/><circle cx="605.69" cy="524.44" r="2.7"/></g>
<g fill="#a46ee6" stroke="#000" stroke-width="0.6" clip-path="url(#cE)"><circle cx="487.3" cy="467.9" r="2.3"/><circle cx="524.91" cy="458.35" r="2.3"/><circle cx="525.79" cy="406.9" r="2.3"/><circle cx="541.83" cy="395.83" r="2.3"/></g>
<rect x="411" y="319" width="155.4" height="44.8" rx="2" fill="#fff" fill-opacity="0.8" stroke="#d4d4d4" stroke-width="0.8"/>
<path d="M413.3 324.8H428.6" stroke="#000" stroke-width="1.4" stroke-dasharray="3.9,1.8"/>
<path d="M413.3 335.5H428.6" stroke="#000" stroke-width="1.3" stroke-dasharray="1.2,1.8"/>
<circle cx="420.95" cy="335.5" r="2.7"/>
<path d="M413.3 346.1H428.6" stroke="#000" stroke-width="1.7"/>
<circle cx="420.95" cy="356.9" r="2.3" fill="#a46ee6" stroke="#000" stroke-width="0.6"/>
<text transform="translate(434.4,327.35) scale(1.078,1)" font-size="7.63">Brine only (model)</text>
<text transform="translate(434.4,338.05) scale(1.080,1)" font-size="7.63">Regolith only (experiment)</text>
<text transform="translate(434.4,348.65) scale(1.090,1)" font-size="7.63">Ideal brine-regolith mixture (model)</text>
<text transform="translate(434.4,359.45) scale(1.092,1)" font-size="7.63">Experimental brine-regolith mixture</text>
<rect x="407.4" y="315.5" width="218.7" height="217.1" fill="none" stroke="#6a6a6a" stroke-width="1.1"/>
<path d="M407.4 532.6v2.5M436.56 532.6v2.5M465.72 532.6v2.5M494.88 532.6v2.5M524.04 532.6v2.5M553.2 532.6v2.5M582.36 532.6v2.5M611.52 532.6v2.5M407.4 315.5v-2.5M436.56 315.5v-2.5M465.72 315.5v-2.5M494.88 315.5v-2.5M524.04 315.5v-2.5M553.2 315.5v-2.5M582.36 315.5v-2.5M611.52 315.5v-2.5M407.4 532.6h-2.5M407.4 489.18h-2.5M407.4 445.76h-2.5M407.4 402.34h-2.5M407.4 358.92h-2.5M407.4 315.5h-2.5" stroke="#333" stroke-width="0.9"/>
<text transform="translate(407.4,543) scale(1.079,1)" font-size="7.63" text-anchor="middle">0</text>
<text transform="translate(436.56,543) scale(1.079,1)" font-size="7.63" text-anchor="middle">10</text>
<text transform="translate(465.72,543) scale(1.079,1)" font-size="7.63" text-anchor="middle">20</text>
<text transform="translate(494.88,543) scale(1.079,1)" font-size="7.63" text-anchor="middle">30</text>
<text transform="translate(524.04,543) scale(1.079,1)" font-size="7.63" text-anchor="middle">40</text>
<text transform="translate(553.2,543) scale(1.079,1)" font-size="7.63" text-anchor="middle">50</text>
<text transform="translate(582.36,543) scale(1.079,1)" font-size="7.63" text-anchor="middle">60</text>
<text transform="translate(611.52,543) scale(1.079,1)" font-size="7.63" text-anchor="middle">70</text>
<text transform="translate(407.4,309.1) scale(1.079,1)" font-size="7.63" text-anchor="middle">0.0</text>
<text transform="translate(436.56,309.1) scale(1.079,1)" font-size="7.63" text-anchor="middle">0.1</text>
<text transform="translate(465.72,309.1) scale(1.079,1)" font-size="7.63" text-anchor="middle">0.2</text>
<text transform="translate(494.88,309.1) scale(1.079,1)" font-size="7.63" text-anchor="middle">0.3</text>
<text transform="translate(524.04,309.1) scale(1.079,1)" font-size="7.63" text-anchor="middle">0.4</text>
<text transform="translate(553.2,309.1) scale(1.079,1)" font-size="7.63" text-anchor="middle">0.5</text>
<text transform="translate(582.36,309.1) scale(1.079,1)" font-size="7.63" text-anchor="middle">0.6</text>
<text transform="translate(611.52,309.1) scale(1.079,1)" font-size="7.63" text-anchor="middle">0.7</text>
<text transform="translate(402.6,535.3) scale(1.079,1)" font-size="7.63" text-anchor="end">0</text>
<text transform="translate(402.6,491.88) scale(1.079,1)" font-size="7.63" text-anchor="end">20</text>
<text transform="translate(402.6,448.46) scale(1.079,1)" font-size="7.63" text-anchor="end">40</text>
<text transform="translate(402.6,405.04) scale(1.079,1)" font-size="7.63" text-anchor="end">60</text>
<text transform="translate(402.6,361.62) scale(1.079,1)" font-size="7.63" text-anchor="end">80</text>
<text transform="translate(402.6,318.2) scale(1.079,1)" font-size="7.63" text-anchor="end">100</text>
<text transform="translate(516.75,553) scale(1.080,1)" font-size="7.63" text-anchor="middle">Relative humidity (%)</text>
<text transform="translate(516.75,300.3) scale(1.119,1)" font-size="7.63" text-anchor="middle">water activity</text>
<text transform="translate(516.75,290.9) scale(1.038,1)" font-size="9.16" text-anchor="middle"><tspan>55.9 wt.% Mg(ClO</tspan><tspan font-size="6.41" dy="1.47">4</tspan><tspan dy="-1.47">)</tspan><tspan font-size="6.41" dy="1.47">2</tspan><tspan dy="-1.47"> in MMS</tspan></text>
<text transform="translate(386.8,291.2) scale(1.076,1)" font-size="12.72" font-weight="bold" stroke="#111" stroke-width="0.3">E)</text>
</svg>
</body></html>
